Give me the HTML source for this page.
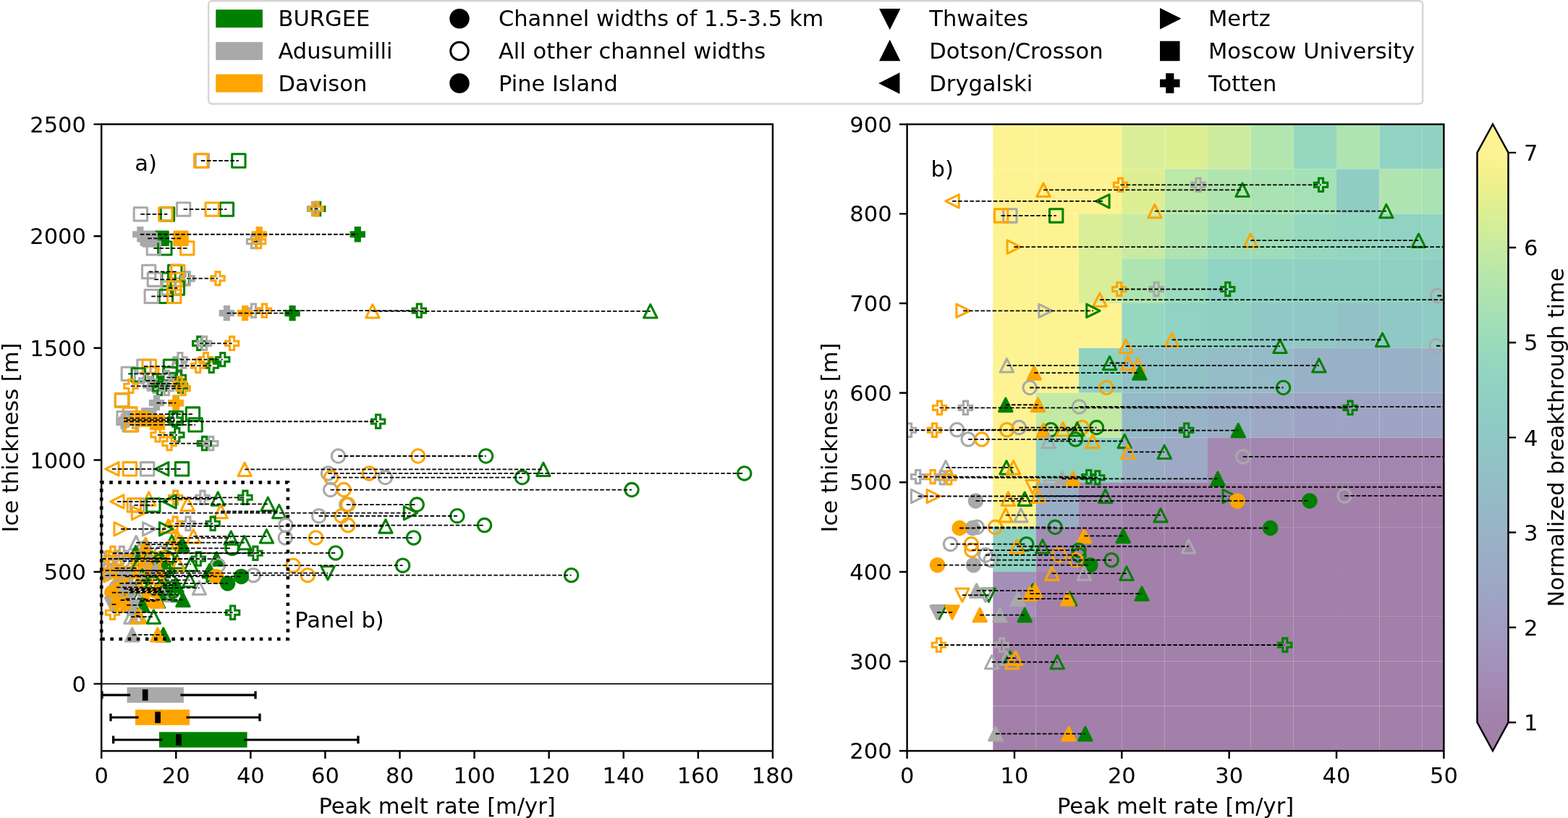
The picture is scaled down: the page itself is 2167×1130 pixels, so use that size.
<!DOCTYPE html>
<html><head><meta charset="utf-8"><title>Peak melt rate vs ice thickness</title>
<style>
html,body{margin:0;padding:0;background:#fff;width:2167px;height:1130px;overflow:hidden}
svg{display:block}
text{font-family:"DejaVu Sans","Liberation Sans",sans-serif;font-size:30.56px;fill:#000}
.dl{stroke:#000;stroke-width:1.8;stroke-dasharray:5.6 2.5;fill:none}
</style></head><body>
<svg width="2167" height="1130" viewBox="0 0 2167 1130">
<defs><clipPath id="ca"><rect x="140.2" y="171.6" width="927.7" height="865.8"/></clipPath>
<clipPath id="cb"><rect x="1253.6" y="171.7" width="741.8" height="865.6"/></clipPath>
<linearGradient id="cg" x1="0" y1="1" x2="0" y2="0">
<stop offset="0" stop-color="#a280aa"/>
<stop offset="0.05" stop-color="#a389b2"/>
<stop offset="0.1" stop-color="#a491ba"/>
<stop offset="0.15" stop-color="#a29abf"/>
<stop offset="0.2" stop-color="#a0a1c3"/>
<stop offset="0.25" stop-color="#9da9c5"/>
<stop offset="0.3" stop-color="#9aafc6"/>
<stop offset="0.35" stop-color="#97b5c7"/>
<stop offset="0.4" stop-color="#94bcc7"/>
<stop offset="0.45" stop-color="#92c2c6"/>
<stop offset="0.5" stop-color="#90c8c6"/>
<stop offset="0.55" stop-color="#8fcdc4"/>
<stop offset="0.6" stop-color="#91d3c2"/>
<stop offset="0.65" stop-color="#97d9bd"/>
<stop offset="0.7" stop-color="#a2dfb8"/>
<stop offset="0.75" stop-color="#afe4b0"/>
<stop offset="0.8" stop-color="#bce8a8"/>
<stop offset="0.85" stop-color="#cdec9e"/>
<stop offset="0.9" stop-color="#deef93"/>
<stop offset="0.95" stop-color="#eff18c"/>
<stop offset="1" stop-color="#fef392"/>
</linearGradient></defs>
<rect width="2167" height="1130" fill="#fff"/>
<rect x="288.2" y="1.2" width="1678" height="142.3" rx="5" ry="5" fill="#fff" stroke="#d6d6d6" stroke-width="2.44"/>
<rect x="299.8" y="14.8" width="61.6" height="21.8" fill="#008000" stroke="#008000" stroke-width="3.06"/>
<text x="384.5" y="36.3" text-anchor="start">BURGEE</text>
<rect x="299.8" y="59.6" width="61.6" height="21.8" fill="#a9a9a9" stroke="#a9a9a9" stroke-width="3.06"/>
<text x="384.5" y="81.1" text-anchor="start">Adusumilli</text>
<rect x="299.8" y="104.1" width="61.6" height="21.8" fill="#ffa500" stroke="#ffa500" stroke-width="3.06"/>
<text x="384.5" y="125.6" text-anchor="start">Davison</text>
<circle cx="635" cy="25.7" r="12.22" fill="#000" stroke="#000" stroke-width="3.06"/>
<text x="688.9" y="36.3" text-anchor="start">Channel widths of 1.5-3.5 km</text>
<circle cx="635" cy="70.5" r="12.22" fill="none" stroke="#000" stroke-width="3.06"/>
<text x="688.9" y="81.1" text-anchor="start">All other channel widths</text>
<circle cx="635" cy="115" r="12.22" fill="#000" stroke="#000" stroke-width="3.06"/>
<text x="688.9" y="125.6" text-anchor="start">Pine Island</text>
<path d="M1229.7 37.92L1217.48 13.48L1241.92 13.48Z" fill="#000" stroke="#000" stroke-width="3.06" stroke-linejoin="miter"/>
<text x="1284.3" y="36.3" text-anchor="start">Thwaites</text>
<path d="M1229.7 58.28L1217.48 82.72L1241.92 82.72Z" fill="#000" stroke="#000" stroke-width="3.06" stroke-linejoin="miter"/>
<text x="1284.3" y="81.1" text-anchor="start">Dotson/Crosson</text>
<path d="M1217.48 115L1241.92 102.78L1241.92 127.22Z" fill="#000" stroke="#000" stroke-width="3.06" stroke-linejoin="miter"/>
<text x="1284.3" y="125.6" text-anchor="start">Drygalski</text>
<path d="M1629.02 25.7L1604.58 13.48L1604.58 37.92Z" fill="#000" stroke="#000" stroke-width="3.06" stroke-linejoin="miter"/>
<text x="1670" y="36.3" text-anchor="start">Mertz</text>
<path d="M1604.58 58.28L1629.02 58.28L1629.02 82.72L1604.58 82.72Z" fill="#000" stroke="#000" stroke-width="3.06" stroke-linejoin="miter"/>
<text x="1670" y="81.1" text-anchor="start">Moscow University</text>
<path d="M1612.73 102.78L1620.87 102.78L1620.87 110.93L1629.02 110.93L1629.02 119.07L1620.87 119.07L1620.87 127.22L1612.73 127.22L1612.73 119.07L1604.58 119.07L1604.58 110.93L1612.73 110.93Z" fill="#000" stroke="#000" stroke-width="3.06" stroke-linejoin="miter"/>
<text x="1670" y="125.6" text-anchor="start">Totten</text>
<g clip-path="url(#ca)">
<path d="M140.2 944.64H1067.9" stroke="#000" stroke-width="1.9" fill="none"/>
<rect x="175.61" y="949.4" width="78.29" height="21.4" fill="#a9a9a9"/>
<path d="M140.97 960.1H180.11M249.39 960.1H353.06" stroke="#000" stroke-width="3.06" fill="none"/>
<path d="M140.97 954.75v10.7M353.06 954.75v10.7" stroke="#000" stroke-width="3.3" fill="none"/>
<rect x="196.81" y="952.3" width="7.7" height="15.6" fill="#000"/>
<rect x="187" y="980.32" width="74.99" height="21.4" fill="#ffa500"/>
<path d="M152.98 991.02H191.5M257.49 991.02H358.98" stroke="#000" stroke-width="3.06" fill="none"/>
<path d="M152.98 985.67v10.7M358.98 985.67v10.7" stroke="#000" stroke-width="3.3" fill="none"/>
<rect x="214.23" y="983.22" width="7.7" height="15.6" fill="#000"/>
<rect x="219.98" y="1011.24" width="121.63" height="21.4" fill="#008000"/>
<path d="M156.59 1021.94H224.48M337.11 1021.94H494.99" stroke="#000" stroke-width="3.06" fill="none"/>
<path d="M156.59 1016.59v10.7M494.99 1016.59v10.7" stroke="#000" stroke-width="3.3" fill="none"/>
<rect x="243.14" y="1014.14" width="7.7" height="15.6" fill="#000"/>
<path d="M320.7 212.83L339.03 212.83L339.03 231.17L320.7 231.17Z" fill="none" stroke="#008000" stroke-width="3.06" stroke-linejoin="round"/>
<path d="M270.19 212.83L288.52 212.83L288.52 231.17L270.19 231.17Z" fill="none" stroke="#a9a9a9" stroke-width="3.06" stroke-linejoin="round"/>
<path d="M268.64 212.83L286.98 212.83L286.98 231.17L268.64 231.17Z" fill="none" stroke="#ffa500" stroke-width="3.06" stroke-linejoin="round"/>
<path d="M304.2 279.93L322.54 279.93L322.54 298.27L304.2 298.27Z" fill="none" stroke="#008000" stroke-width="3.06" stroke-linejoin="round"/>
<path d="M244.42 279.93L262.75 279.93L262.75 298.27L244.42 298.27Z" fill="none" stroke="#a9a9a9" stroke-width="3.06" stroke-linejoin="round"/>
<path d="M284.1 279.93L302.44 279.93L302.44 298.27L284.1 298.27Z" fill="none" stroke="#ffa500" stroke-width="3.06" stroke-linejoin="round"/>
<path d="M436.58 279.32L442.7 279.32L442.7 285.43L448.81 285.43L448.81 291.54L442.7 291.54L442.7 297.65L436.58 297.65L436.58 291.54L430.47 291.54L430.47 285.43L436.58 285.43Z" fill="none" stroke="#008000" stroke-width="3.06" stroke-linejoin="miter"/>
<path d="M431.43 279.32L437.54 279.32L437.54 285.43L443.66 285.43L443.66 291.54L437.54 291.54L437.54 297.65L431.43 297.65L431.43 291.54L425.32 291.54L425.32 285.43L431.43 285.43Z" fill="none" stroke="#a9a9a9" stroke-width="3.06" stroke-linejoin="miter"/>
<path d="M434.01 279.32L440.12 279.32L440.12 285.43L446.23 285.43L446.23 291.54L440.12 291.54L440.12 297.65L434.01 297.65L434.01 291.54L427.9 291.54L427.9 285.43L434.01 285.43Z" fill="none" stroke="#ffa500" stroke-width="3.06" stroke-linejoin="miter"/>
<path d="M222.26 286.74L240.59 286.74L240.59 305.07L222.26 305.07Z" fill="none" stroke="#008000" stroke-width="3.06" stroke-linejoin="round"/>
<path d="M185.15 286.74L203.48 286.74L203.48 305.07L185.15 305.07Z" fill="none" stroke="#a9a9a9" stroke-width="3.06" stroke-linejoin="round"/>
<path d="M219.68 286.74L238.01 286.74L238.01 305.07L219.68 305.07Z" fill="none" stroke="#ffa500" stroke-width="3.06" stroke-linejoin="round"/>
<path d="M491.22 314.57L497.33 314.57L497.33 320.68L503.44 320.68L503.44 326.79L497.33 326.79L497.33 332.9L491.22 332.9L491.22 326.79L485.1 326.79L485.1 320.68L491.22 320.68Z" fill="#008000" stroke="#008000" stroke-width="3.06" stroke-linejoin="miter"/>
<path d="M190.74 314.57L196.86 314.57L196.86 320.68L202.97 320.68L202.97 326.79L196.86 326.79L196.86 332.9L190.74 332.9L190.74 326.79L184.63 326.79L184.63 320.68L190.74 320.68Z" fill="#a9a9a9" stroke="#a9a9a9" stroke-width="3.06" stroke-linejoin="miter"/>
<path d="M355.15 314.57L361.27 314.57L361.27 320.68L367.38 320.68L367.38 326.79L361.27 326.79L361.27 332.9L355.15 332.9L355.15 326.79L349.04 326.79L349.04 320.68L355.15 320.68Z" fill="#ffa500" stroke="#ffa500" stroke-width="3.06" stroke-linejoin="miter"/>
<path d="M214.01 320.13L232.35 320.13L232.35 338.47L214.01 338.47Z" fill="#008000" stroke="#008000" stroke-width="3.06" stroke-linejoin="round"/>
<path d="M194.94 320.13L213.28 320.13L213.28 338.47L194.94 338.47Z" fill="#a9a9a9" stroke="#a9a9a9" stroke-width="3.06" stroke-linejoin="round"/>
<path d="M240.81 320.13L259.15 320.13L259.15 338.47L240.81 338.47Z" fill="#ffa500" stroke="#ffa500" stroke-width="3.06" stroke-linejoin="round"/>
<path d="M198.03 321.99L216.37 321.99L216.37 340.32L198.03 340.32Z" fill="#a9a9a9" stroke="#a9a9a9" stroke-width="3.06" stroke-linejoin="round"/>
<path d="M347.42 324.46L353.53 324.46L353.53 330.57L359.65 330.57L359.65 336.68L353.53 336.68L353.53 342.8L347.42 342.8L347.42 336.68L341.31 336.68L341.31 330.57L347.42 330.57Z" fill="none" stroke="#a9a9a9" stroke-width="3.06" stroke-linejoin="miter"/>
<path d="M354.64 324.46L360.75 324.46L360.75 330.57L366.86 330.57L366.86 336.68L360.75 336.68L360.75 342.8L354.64 342.8L354.64 336.68L348.53 336.68L348.53 330.57L354.64 330.57Z" fill="none" stroke="#ffa500" stroke-width="3.06" stroke-linejoin="miter"/>
<path d="M218.65 333.74L236.98 333.74L236.98 352.07L218.65 352.07Z" fill="none" stroke="#008000" stroke-width="3.06" stroke-linejoin="round"/>
<path d="M203.19 333.74L221.52 333.74L221.52 352.07L203.19 352.07Z" fill="none" stroke="#a9a9a9" stroke-width="3.06" stroke-linejoin="round"/>
<path d="M249.57 333.74L267.91 333.74L267.91 352.07L249.57 352.07Z" fill="none" stroke="#ffa500" stroke-width="3.06" stroke-linejoin="round"/>
<path d="M232.56 366.2L250.9 366.2L250.9 384.54L232.56 384.54Z" fill="none" stroke="#008000" stroke-width="3.06" stroke-linejoin="round"/>
<path d="M196.49 366.2L214.82 366.2L214.82 384.54L196.49 384.54Z" fill="none" stroke="#a9a9a9" stroke-width="3.06" stroke-linejoin="round"/>
<path d="M236.69 366.2L255.02 366.2L255.02 384.54L236.69 384.54Z" fill="none" stroke="#ffa500" stroke-width="3.06" stroke-linejoin="round"/>
<path d="M255.17 375.48L261.28 375.48L261.28 381.59L267.39 381.59L267.39 387.7L261.28 387.7L261.28 393.82L255.17 393.82L255.17 387.7L249.06 387.7L249.06 381.59L255.17 381.59Z" fill="none" stroke="#008000" stroke-width="3.06" stroke-linejoin="miter"/>
<path d="M256.2 375.48L262.31 375.48L262.31 381.59L268.42 381.59L268.42 387.7L262.31 387.7L262.31 393.82L256.2 393.82L256.2 387.7L250.09 387.7L250.09 381.59L256.2 381.59Z" fill="none" stroke="#a9a9a9" stroke-width="3.06" stroke-linejoin="miter"/>
<path d="M297.95 375.48L304.06 375.48L304.06 381.59L310.17 381.59L310.17 387.7L304.06 387.7L304.06 393.82L297.95 393.82L297.95 387.7L291.83 387.7L291.83 381.59L297.95 381.59Z" fill="none" stroke="#ffa500" stroke-width="3.06" stroke-linejoin="miter"/>
<path d="M223.8 377.03L242.14 377.03L242.14 395.36L223.8 395.36Z" fill="none" stroke="#008000" stroke-width="3.06" stroke-linejoin="round"/>
<path d="M204.22 377.03L222.55 377.03L222.55 395.36L204.22 395.36Z" fill="none" stroke="#a9a9a9" stroke-width="3.06" stroke-linejoin="round"/>
<path d="M235.14 377.03L253.48 377.03L253.48 395.36L235.14 395.36Z" fill="none" stroke="#ffa500" stroke-width="3.06" stroke-linejoin="round"/>
<path d="M236.17 388.78L254.51 388.78L254.51 407.11L236.17 407.11Z" fill="none" stroke="#008000" stroke-width="3.06" stroke-linejoin="round"/>
<path d="M223.8 388.78L242.14 388.78L242.14 407.11L223.8 407.11Z" fill="none" stroke="#a9a9a9" stroke-width="3.06" stroke-linejoin="round"/>
<path d="M231.53 388.78L249.87 388.78L249.87 407.11L231.53 407.11Z" fill="none" stroke="#ffa500" stroke-width="3.06" stroke-linejoin="round"/>
<path d="M220.19 400.22L238.53 400.22L238.53 418.55L220.19 418.55Z" fill="none" stroke="#008000" stroke-width="3.06" stroke-linejoin="round"/>
<path d="M200.09 400.22L218.43 400.22L218.43 418.55L200.09 418.55Z" fill="none" stroke="#a9a9a9" stroke-width="3.06" stroke-linejoin="round"/>
<path d="M231.53 400.22L249.87 400.22L249.87 418.55L231.53 418.55Z" fill="none" stroke="#ffa500" stroke-width="3.06" stroke-linejoin="round"/>
<path d="M898.85 420.63L889.68 438.96L908.02 438.96Z" fill="none" stroke="#008000" stroke-width="3.06" stroke-linejoin="round"/>
<path d="M514.89 420.63L505.72 438.96L524.06 438.96Z" fill="none" stroke="#ffa500" stroke-width="3.06" stroke-linejoin="round"/>
<path d="M576.26 420.01L582.37 420.01L582.37 426.12L588.48 426.12L588.48 432.23L582.37 432.23L582.37 438.34L576.26 438.34L576.26 432.23L570.14 432.23L570.14 426.12L576.26 426.12Z" fill="none" stroke="#008000" stroke-width="3.06" stroke-linejoin="miter"/>
<path d="M347.42 420.01L353.53 420.01L353.53 426.12L359.65 426.12L359.65 432.23L353.53 432.23L353.53 438.34L347.42 438.34L347.42 432.23L341.31 432.23L341.31 426.12L347.42 426.12Z" fill="none" stroke="#a9a9a9" stroke-width="3.06" stroke-linejoin="miter"/>
<path d="M362.37 420.01L368.48 420.01L368.48 426.12L374.59 426.12L374.59 432.23L368.48 432.23L368.48 438.34L362.37 438.34L362.37 432.23L356.26 432.23L356.26 426.12L362.37 426.12Z" fill="none" stroke="#ffa500" stroke-width="3.06" stroke-linejoin="miter"/>
<path d="M401.02 423.41L407.14 423.41L407.14 429.52L413.25 429.52L413.25 435.63L407.14 435.63L407.14 441.74L401.02 441.74L401.02 435.63L394.91 435.63L394.91 429.52L401.02 429.52Z" fill="#008000" stroke="#008000" stroke-width="3.06" stroke-linejoin="miter"/>
<path d="M310.31 423.41L316.43 423.41L316.43 429.52L322.54 429.52L322.54 435.63L316.43 435.63L316.43 441.74L310.31 441.74L310.31 435.63L304.2 435.63L304.2 429.52L310.31 429.52Z" fill="#a9a9a9" stroke="#a9a9a9" stroke-width="3.06" stroke-linejoin="miter"/>
<path d="M335.57 423.41L341.68 423.41L341.68 429.52L347.79 429.52L347.79 435.63L341.68 435.63L341.68 441.74L335.57 441.74L335.57 435.63L329.46 435.63L329.46 429.52L335.57 429.52Z" fill="#ffa500" stroke="#ffa500" stroke-width="3.06" stroke-linejoin="miter"/>
<path d="M272.69 465.15L278.8 465.15L278.8 471.26L284.92 471.26L284.92 477.38L278.8 477.38L278.8 483.49L272.69 483.49L272.69 477.38L266.58 477.38L266.58 471.26L272.69 471.26Z" fill="none" stroke="#008000" stroke-width="3.06" stroke-linejoin="miter"/>
<path d="M279.39 465.15L285.5 465.15L285.5 471.26L291.62 471.26L291.62 477.38L285.5 477.38L285.5 483.49L279.39 483.49L279.39 477.38L273.28 477.38L273.28 471.26L279.39 471.26Z" fill="none" stroke="#a9a9a9" stroke-width="3.06" stroke-linejoin="miter"/>
<path d="M317.53 465.15L323.64 465.15L323.64 471.26L329.75 471.26L329.75 477.38L323.64 477.38L323.64 483.49L317.53 483.49L317.53 477.38L311.42 477.38L311.42 471.26L317.53 471.26Z" fill="none" stroke="#ffa500" stroke-width="3.06" stroke-linejoin="miter"/>
<path d="M304.65 487.42L310.76 487.42L310.76 493.53L316.87 493.53L316.87 499.64L310.76 499.64L310.76 505.75L304.65 505.75L304.65 499.64L298.53 499.64L298.53 493.53L304.65 493.53Z" fill="none" stroke="#008000" stroke-width="3.06" stroke-linejoin="miter"/>
<path d="M245.89 487.42L252 487.42L252 493.53L258.12 493.53L258.12 499.64L252 499.64L252 505.75L245.89 505.75L245.89 499.64L239.78 499.64L239.78 493.53L245.89 493.53Z" fill="none" stroke="#a9a9a9" stroke-width="3.06" stroke-linejoin="miter"/>
<path d="M281.45 487.42L287.56 487.42L287.56 493.53L293.68 493.53L293.68 499.64L287.56 499.64L287.56 505.75L281.45 505.75L281.45 499.64L275.34 499.64L275.34 493.53L281.45 493.53Z" fill="none" stroke="#ffa500" stroke-width="3.06" stroke-linejoin="miter"/>
<path d="M289.18 496.07L295.3 496.07L295.3 502.19L301.41 502.19L301.41 508.3L295.3 508.3L295.3 514.41L289.18 514.41L289.18 508.3L283.07 508.3L283.07 502.19L289.18 502.19Z" fill="none" stroke="#008000" stroke-width="3.06" stroke-linejoin="miter"/>
<path d="M244.86 496.07L250.97 496.07L250.97 502.19L257.08 502.19L257.08 508.3L250.97 508.3L250.97 514.41L244.86 514.41L244.86 508.3L238.75 508.3L238.75 502.19L244.86 502.19Z" fill="none" stroke="#a9a9a9" stroke-width="3.06" stroke-linejoin="miter"/>
<path d="M270.63 496.07L276.74 496.07L276.74 502.19L282.85 502.19L282.85 508.3L276.74 508.3L276.74 514.41L270.63 514.41L270.63 508.3L264.52 508.3L264.52 502.19L270.63 502.19Z" fill="none" stroke="#ffa500" stroke-width="3.06" stroke-linejoin="miter"/>
<path d="M226.38 497L244.71 497L244.71 515.34L226.38 515.34Z" fill="none" stroke="#008000" stroke-width="3.06" stroke-linejoin="round"/>
<path d="M189.79 497L208.12 497L208.12 515.34L189.79 515.34Z" fill="none" stroke="#a9a9a9" stroke-width="3.06" stroke-linejoin="round"/>
<path d="M197 497L215.34 497L215.34 515.34L197 515.34Z" fill="none" stroke="#ffa500" stroke-width="3.06" stroke-linejoin="round"/>
<path d="M225.86 507.21L244.2 507.21L244.2 525.54L225.86 525.54Z" fill="none" stroke="#008000" stroke-width="3.06" stroke-linejoin="round"/>
<path d="M168.14 507.21L186.48 507.21L186.48 525.54L168.14 525.54Z" fill="none" stroke="#a9a9a9" stroke-width="3.06" stroke-linejoin="round"/>
<path d="M200.61 507.21L218.95 507.21L218.95 525.54L200.61 525.54Z" fill="none" stroke="#ffa500" stroke-width="3.06" stroke-linejoin="round"/>
<path d="M182.06 508.75L200.39 508.75L200.39 527.09L182.06 527.09Z" fill="none" stroke="#008000" stroke-width="3.06" stroke-linejoin="round"/>
<path d="M244.34 512.15L250.46 512.15L250.46 518.27L256.57 518.27L256.57 524.38L250.46 524.38L250.46 530.49L244.34 530.49L244.34 524.38L238.23 524.38L238.23 518.27L244.34 518.27Z" fill="none" stroke="#008000" stroke-width="3.06" stroke-linejoin="miter"/>
<path d="M227.34 512.15L233.45 512.15L233.45 518.27L239.56 518.27L239.56 524.38L233.45 524.38L233.45 530.49L227.34 530.49L227.34 524.38L221.23 524.38L221.23 518.27L227.34 518.27Z" fill="none" stroke="#a9a9a9" stroke-width="3.06" stroke-linejoin="miter"/>
<path d="M211.36 516.79L217.47 516.79L217.47 522.9L223.58 522.9L223.58 529.02L217.47 529.02L217.47 535.13L211.36 535.13L211.36 529.02L205.25 529.02L205.25 522.9L211.36 522.9Z" fill="none" stroke="#008000" stroke-width="3.06" stroke-linejoin="miter"/>
<path d="M198.48 516.79L204.59 516.79L204.59 522.9L210.7 522.9L210.7 529.02L204.59 529.02L204.59 535.13L198.48 535.13L198.48 529.02L192.36 529.02L192.36 522.9L198.48 522.9Z" fill="none" stroke="#a9a9a9" stroke-width="3.06" stroke-linejoin="miter"/>
<path d="M246.41 524.21L252.52 524.21L252.52 530.32L258.63 530.32L258.63 536.44L252.52 536.44L252.52 542.55L246.41 542.55L246.41 536.44L240.29 536.44L240.29 530.32L246.41 530.32Z" fill="none" stroke="#008000" stroke-width="3.06" stroke-linejoin="miter"/>
<path d="M211.88 524.21L217.99 524.21L217.99 530.32L224.1 530.32L224.1 536.44L217.99 536.44L217.99 542.55L211.88 542.55L211.88 536.44L205.76 536.44L205.76 530.32L211.88 530.32Z" fill="none" stroke="#a9a9a9" stroke-width="3.06" stroke-linejoin="miter"/>
<path d="M177.86 524.21L183.97 524.21L183.97 530.32L190.08 530.32L190.08 536.44L183.97 536.44L183.97 542.55L177.86 542.55L177.86 536.44L171.75 536.44L171.75 530.32L177.86 530.32Z" fill="none" stroke="#ffa500" stroke-width="3.06" stroke-linejoin="miter"/>
<path d="M219.61 520.81L225.72 520.81L225.72 526.92L231.83 526.92L231.83 533.04L225.72 533.04L225.72 539.15L219.61 539.15L219.61 533.04L213.49 533.04L213.49 526.92L219.61 526.92Z" fill="none" stroke="#008000" stroke-width="3.06" stroke-linejoin="miter"/>
<path d="M204.14 520.81L210.26 520.81L210.26 526.92L216.37 526.92L216.37 533.04L210.26 533.04L210.26 539.15L204.14 539.15L204.14 533.04L198.03 533.04L198.03 526.92L204.14 526.92Z" fill="none" stroke="#a9a9a9" stroke-width="3.06" stroke-linejoin="miter"/>
<path d="M245.38 520.81L251.49 520.81L251.49 526.92L257.6 526.92L257.6 533.04L251.49 533.04L251.49 539.15L245.38 539.15L245.38 533.04L239.26 533.04L239.26 526.92L245.38 526.92Z" fill="none" stroke="#ffa500" stroke-width="3.06" stroke-linejoin="miter"/>
<path d="M217.54 527.46L223.66 527.46L223.66 533.57L229.77 533.57L229.77 539.68L223.66 539.68L223.66 545.8L217.54 545.8L217.54 539.68L211.43 539.68L211.43 533.57L217.54 533.57Z" fill="none" stroke="#008000" stroke-width="3.06" stroke-linejoin="miter"/>
<path d="M227.34 527.46L233.45 527.46L233.45 533.57L239.56 533.57L239.56 539.68L233.45 539.68L233.45 545.8L227.34 545.8L227.34 539.68L221.23 539.68L221.23 533.57L227.34 533.57Z" fill="none" stroke="#a9a9a9" stroke-width="3.06" stroke-linejoin="miter"/>
<path d="M250.01 527.46L256.13 527.46L256.13 533.57L262.24 533.57L262.24 539.68L256.13 539.68L256.13 545.8L250.01 545.8L250.01 539.68L243.9 539.68L243.9 533.57L250.01 533.57Z" fill="none" stroke="#ffa500" stroke-width="3.06" stroke-linejoin="miter"/>
<path d="M159.38 543.69L177.71 543.69L177.71 562.03L159.38 562.03Z" fill="none" stroke="#008000" stroke-width="3.06" stroke-linejoin="round"/>
<path d="M159.38 543.69L177.71 543.69L177.71 562.03L159.38 562.03Z" fill="none" stroke="#a9a9a9" stroke-width="3.06" stroke-linejoin="round"/>
<path d="M159.38 543.69L177.71 543.69L177.71 562.03L159.38 562.03Z" fill="none" stroke="#ffa500" stroke-width="3.06" stroke-linejoin="round"/>
<path d="M240.22 547.4L246.33 547.4L246.33 553.52L252.45 553.52L252.45 559.63L246.33 559.63L246.33 565.74L240.22 565.74L240.22 559.63L234.11 559.63L234.11 553.52L240.22 553.52Z" fill="#008000" stroke="#008000" stroke-width="3.06" stroke-linejoin="miter"/>
<path d="M213.42 547.4L219.53 547.4L219.53 553.52L225.65 553.52L225.65 559.63L219.53 559.63L219.53 565.74L213.42 565.74L213.42 559.63L207.31 559.63L207.31 553.52L213.42 553.52Z" fill="#a9a9a9" stroke="#a9a9a9" stroke-width="3.06" stroke-linejoin="miter"/>
<path d="M240.22 547.4L246.33 547.4L246.33 553.52L252.45 553.52L252.45 559.63L246.33 559.63L246.33 565.74L240.22 565.74L240.22 559.63L234.11 559.63L234.11 553.52L240.22 553.52Z" fill="#ffa500" stroke="#ffa500" stroke-width="3.06" stroke-linejoin="miter"/>
<path d="M257.3 562.86L275.64 562.86L275.64 581.2L257.3 581.2Z" fill="none" stroke="#008000" stroke-width="3.06" stroke-linejoin="round"/>
<path d="M170.72 562.86L189.05 562.86L189.05 581.2L170.72 581.2Z" fill="none" stroke="#a9a9a9" stroke-width="3.06" stroke-linejoin="round"/>
<path d="M170.2 562.86L188.54 562.86L188.54 581.2L170.2 581.2Z" fill="none" stroke="#ffa500" stroke-width="3.06" stroke-linejoin="round"/>
<path d="M196.49 564.41L214.82 564.41L214.82 582.75L196.49 582.75Z" fill="#a9a9a9" stroke="#a9a9a9" stroke-width="3.06" stroke-linejoin="round"/>
<path d="M187.72 569.98L206.06 569.98L206.06 588.31L187.72 588.31Z" fill="#ffa500" stroke="#ffa500" stroke-width="3.06" stroke-linejoin="round"/>
<path d="M208.34 574.31L226.68 574.31L226.68 592.64L208.34 592.64Z" fill="#ffa500" stroke="#ffa500" stroke-width="3.06" stroke-linejoin="round"/>
<path d="M234.11 568.43L252.45 568.43L252.45 586.77L234.11 586.77Z" fill="none" stroke="#008000" stroke-width="3.06" stroke-linejoin="round"/>
<path d="M161.96 568.43L180.29 568.43L180.29 586.77L161.96 586.77Z" fill="none" stroke="#a9a9a9" stroke-width="3.06" stroke-linejoin="round"/>
<path d="M182.57 568.43L200.91 568.43L200.91 586.77L182.57 586.77Z" fill="none" stroke="#ffa500" stroke-width="3.06" stroke-linejoin="round"/>
<path d="M238.68 570.9L244.79 570.9L244.79 577.02L250.9 577.02L250.9 583.13L244.79 583.13L244.79 589.24L238.68 589.24L238.68 583.13L232.56 583.13L232.56 577.02L238.68 577.02Z" fill="none" stroke="#008000" stroke-width="3.06" stroke-linejoin="miter"/>
<path d="M171.42 570.9L177.53 570.9L177.53 577.02L183.64 577.02L183.64 583.13L177.53 583.13L177.53 589.24L171.42 589.24L171.42 583.13L165.31 583.13L165.31 577.02L171.42 577.02Z" fill="none" stroke="#a9a9a9" stroke-width="3.06" stroke-linejoin="miter"/>
<path d="M519.56 573.07L525.67 573.07L525.67 579.18L531.79 579.18L531.79 585.29L525.67 585.29L525.67 591.4L519.56 591.4L519.56 585.29L513.45 585.29L513.45 579.18L519.56 579.18Z" fill="none" stroke="#008000" stroke-width="3.06" stroke-linejoin="miter"/>
<path d="M168.07 573.07L174.18 573.07L174.18 579.18L180.29 579.18L180.29 585.29L174.18 585.29L174.18 591.4L168.07 591.4L168.07 585.29L161.96 585.29L161.96 579.18L168.07 579.18Z" fill="none" stroke="#a9a9a9" stroke-width="3.06" stroke-linejoin="miter"/>
<path d="M183.53 573.07L189.64 573.07L189.64 579.18L195.75 579.18L195.75 585.29L189.64 585.29L189.64 591.4L183.53 591.4L183.53 585.29L177.42 585.29L177.42 579.18L183.53 579.18Z" fill="none" stroke="#ffa500" stroke-width="3.06" stroke-linejoin="miter"/>
<path d="M260.91 577.71L279.25 577.71L279.25 596.04L260.91 596.04Z" fill="none" stroke="#008000" stroke-width="3.06" stroke-linejoin="round"/>
<path d="M170.2 577.71L188.54 577.71L188.54 596.04L170.2 596.04Z" fill="none" stroke="#a9a9a9" stroke-width="3.06" stroke-linejoin="round"/>
<path d="M172.52 577.71L190.86 577.71L190.86 596.04L172.52 596.04Z" fill="none" stroke="#ffa500" stroke-width="3.06" stroke-linejoin="round"/>
<path d="M241.77 591.62L247.88 591.62L247.88 597.73L253.99 597.73L253.99 603.85L247.88 603.85L247.88 609.96L241.77 609.96L241.77 603.85L235.66 603.85L235.66 597.73L241.77 597.73Z" fill="none" stroke="#008000" stroke-width="3.06" stroke-linejoin="miter"/>
<path d="M214.97 591.62L221.08 591.62L221.08 597.73L227.19 597.73L227.19 603.85L221.08 603.85L221.08 609.96L214.97 609.96L214.97 603.85L208.86 603.85L208.86 597.73L214.97 597.73Z" fill="none" stroke="#ffa500" stroke-width="3.06" stroke-linejoin="miter"/>
<path d="M279.39 603.37L285.5 603.37L285.5 609.48L291.62 609.48L291.62 615.6L285.5 615.6L285.5 621.71L279.39 621.71L279.39 615.6L273.28 615.6L273.28 609.48L279.39 609.48Z" fill="none" stroke="#008000" stroke-width="3.06" stroke-linejoin="miter"/>
<path d="M288.67 603.37L294.78 603.37L294.78 609.48L300.89 609.48L300.89 615.6L294.78 615.6L294.78 621.71L288.67 621.71L288.67 615.6L282.56 615.6L282.56 609.48L288.67 609.48Z" fill="none" stroke="#a9a9a9" stroke-width="3.06" stroke-linejoin="miter"/>
<path d="M230.94 603.37L237.06 603.37L237.06 609.48L243.17 609.48L243.17 615.6L237.06 615.6L237.06 621.71L230.94 621.71L230.94 615.6L224.83 615.6L224.83 609.48L230.94 609.48Z" fill="none" stroke="#ffa500" stroke-width="3.06" stroke-linejoin="miter"/>
<circle cx="671.57" cy="630.01" r="9.17" fill="none" stroke="#008000" stroke-width="3.06"/>
<circle cx="467.47" cy="630.01" r="9.17" fill="none" stroke="#a9a9a9" stroke-width="3.06"/>
<circle cx="577.77" cy="630.01" r="9.17" fill="none" stroke="#ffa500" stroke-width="3.06"/>
<path d="M214.52 647.79L232.86 638.62L232.86 656.96Z" fill="none" stroke="#008000" stroke-width="3.06" stroke-linejoin="round"/>
<path d="M145.72 647.79L164.06 638.62L164.06 656.96Z" fill="none" stroke="#ffa500" stroke-width="3.06" stroke-linejoin="round"/>
<path d="M242.36 638.62L260.69 638.62L260.69 656.96L242.36 656.96Z" fill="none" stroke="#008000" stroke-width="3.06" stroke-linejoin="round"/>
<path d="M194.42 638.62L212.76 638.62L212.76 656.96L194.42 656.96Z" fill="none" stroke="#a9a9a9" stroke-width="3.06" stroke-linejoin="round"/>
<path d="M170.2 638.62L188.54 638.62L188.54 656.96L170.2 656.96Z" fill="none" stroke="#ffa500" stroke-width="3.06" stroke-linejoin="round"/>
<path d="M750.94 639.24L741.77 657.58L760.1 657.58Z" fill="none" stroke="#008000" stroke-width="3.06" stroke-linejoin="round"/>
<path d="M338.11 639.24L328.94 657.58L347.28 657.58Z" fill="none" stroke="#ffa500" stroke-width="3.06" stroke-linejoin="round"/>
<circle cx="1028.73" cy="653.97" r="9.17" fill="none" stroke="#008000" stroke-width="3.06"/>
<circle cx="453.56" cy="653.97" r="9.17" fill="none" stroke="#a9a9a9" stroke-width="3.06"/>
<circle cx="510.25" cy="653.97" r="9.17" fill="none" stroke="#ffa500" stroke-width="3.06"/>
<circle cx="721.56" cy="659.54" r="9.17" fill="none" stroke="#008000" stroke-width="3.06"/>
<circle cx="532.41" cy="659.54" r="9.17" fill="none" stroke="#a9a9a9" stroke-width="3.06"/>
<circle cx="457.68" cy="659.54" r="9.17" fill="none" stroke="#ffa500" stroke-width="3.06"/>
<circle cx="873.08" cy="676.55" r="9.17" fill="none" stroke="#008000" stroke-width="3.06"/>
<circle cx="456.65" cy="676.55" r="9.17" fill="none" stroke="#a9a9a9" stroke-width="3.06"/>
<circle cx="475.2" cy="676.55" r="9.17" fill="none" stroke="#ffa500" stroke-width="3.06"/>
<path d="M335.83 678.11L341.94 678.11L341.94 684.22L348.05 684.22L348.05 690.33L341.94 690.33L341.94 696.44L335.83 696.44L335.83 690.33L329.71 690.33L329.71 684.22L335.83 684.22Z" fill="none" stroke="#008000" stroke-width="3.06" stroke-linejoin="miter"/>
<path d="M276.92 678.11L283.03 678.11L283.03 684.22L289.14 684.22L289.14 690.33L283.03 690.33L283.03 696.44L276.92 696.44L276.92 690.33L270.81 690.33L270.81 684.22L276.92 684.22Z" fill="none" stroke="#a9a9a9" stroke-width="3.06" stroke-linejoin="miter"/>
<path d="M239.6 678.11L245.72 678.11L245.72 684.22L251.83 684.22L251.83 690.33L245.72 690.33L245.72 696.44L239.6 696.44L239.6 690.33L233.49 690.33L233.49 684.22L239.6 684.22Z" fill="none" stroke="#ffa500" stroke-width="3.06" stroke-linejoin="miter"/>
<path d="M301.21 679.84L292.04 698.18L310.38 698.18Z" fill="none" stroke="#008000" stroke-width="3.06" stroke-linejoin="round"/>
<path d="M205.65 679.84L196.49 698.18L214.82 698.18Z" fill="none" stroke="#ffa500" stroke-width="3.06" stroke-linejoin="round"/>
<path d="M224.94 692.9L243.27 683.74L243.27 702.07Z" fill="none" stroke="#008000" stroke-width="3.06" stroke-linejoin="round"/>
<path d="M152.73 692.9L171.07 683.74L171.07 702.07Z" fill="none" stroke="#ffa500" stroke-width="3.06" stroke-linejoin="round"/>
<path d="M202.62 688.75L220.96 688.75L220.96 707.08L202.62 707.08Z" fill="none" stroke="#008000" stroke-width="3.06" stroke-linejoin="round"/>
<path d="M180.46 688.75L198.79 688.75L198.79 707.08L180.46 707.08Z" fill="none" stroke="#a9a9a9" stroke-width="3.06" stroke-linejoin="round"/>
<path d="M176.18 688.75L194.52 688.75L194.52 707.08L176.18 707.08Z" fill="none" stroke="#ffa500" stroke-width="3.06" stroke-linejoin="round"/>
<path d="M370.27 687.17L361.1 705.5L379.44 705.5Z" fill="none" stroke="#008000" stroke-width="3.06" stroke-linejoin="round"/>
<path d="M259.1 687.17L249.93 705.5L268.27 705.5Z" fill="none" stroke="#ffa500" stroke-width="3.06" stroke-linejoin="round"/>
<circle cx="576.22" cy="697.05" r="9.17" fill="none" stroke="#008000" stroke-width="3.06"/>
<circle cx="478.81" cy="697.05" r="9.17" fill="none" stroke="#a9a9a9" stroke-width="3.06"/>
<circle cx="480.87" cy="697.05" r="9.17" fill="none" stroke="#ffa500" stroke-width="3.06"/>
<path d="M385.78 697.31L376.61 715.65L394.95 715.65Z" fill="none" stroke="#008000" stroke-width="3.06" stroke-linejoin="round"/>
<path d="M305.12 697.31L295.96 715.65L314.29 715.65Z" fill="none" stroke="#ffa500" stroke-width="3.06" stroke-linejoin="round"/>
<path d="M576.63 708.71L558.29 699.54L558.29 717.87Z" fill="none" stroke="#008000" stroke-width="3.06" stroke-linejoin="round"/>
<path d="M200.65 708.71L182.31 699.54L182.31 717.87Z" fill="none" stroke="#ffa500" stroke-width="3.06" stroke-linejoin="round"/>
<circle cx="631.88" cy="712.73" r="9.17" fill="none" stroke="#008000" stroke-width="3.06"/>
<circle cx="440.67" cy="712.73" r="9.17" fill="none" stroke="#a9a9a9" stroke-width="3.06"/>
<circle cx="472.11" cy="712.73" r="9.17" fill="none" stroke="#ffa500" stroke-width="3.06"/>
<path d="M291.09 714.13L297.2 714.13L297.2 720.24L303.31 720.24L303.31 726.36L297.2 726.36L297.2 732.47L291.09 732.47L291.09 726.36L284.98 726.36L284.98 720.24L291.09 720.24Z" fill="none" stroke="#008000" stroke-width="3.06" stroke-linejoin="miter"/>
<path d="M256.82 714.13L262.93 714.13L262.93 720.24L269.04 720.24L269.04 726.36L262.93 726.36L262.93 732.47L256.82 732.47L256.82 726.36L250.71 726.36L250.71 720.24L256.82 720.24Z" fill="none" stroke="#a9a9a9" stroke-width="3.06" stroke-linejoin="miter"/>
<path d="M238.98 714.13L245.1 714.13L245.1 720.24L251.21 720.24L251.21 726.36L245.1 726.36L245.1 732.47L238.98 732.47L238.98 726.36L232.87 726.36L232.87 720.24L238.98 720.24Z" fill="none" stroke="#ffa500" stroke-width="3.06" stroke-linejoin="miter"/>
<circle cx="669.5" cy="725.56" r="9.17" fill="none" stroke="#008000" stroke-width="3.06"/>
<circle cx="394.8" cy="725.56" r="9.17" fill="none" stroke="#a9a9a9" stroke-width="3.06"/>
<circle cx="480.87" cy="725.56" r="9.17" fill="none" stroke="#ffa500" stroke-width="3.06"/>
<path d="M532.93 717.78L523.76 736.12L542.09 736.12Z" fill="none" stroke="#008000" stroke-width="3.06" stroke-linejoin="round"/>
<path d="M232.71 717.78L223.54 736.12L241.88 736.12Z" fill="none" stroke="#ffa500" stroke-width="3.06" stroke-linejoin="round"/>
<path d="M238.74 730.75L220.4 721.58L220.4 739.92Z" fill="none" stroke="#008000" stroke-width="3.06" stroke-linejoin="round"/>
<path d="M215.85 730.75L197.52 721.58L197.52 739.92Z" fill="none" stroke="#a9a9a9" stroke-width="3.06" stroke-linejoin="round"/>
<path d="M176.27 730.75L157.94 721.58L157.94 739.92Z" fill="none" stroke="#ffa500" stroke-width="3.06" stroke-linejoin="round"/>
<path d="M368.41 731.63L359.25 749.97L377.58 749.97Z" fill="none" stroke="#008000" stroke-width="3.06" stroke-linejoin="round"/>
<path d="M267.29 731.63L258.13 749.97L276.46 749.97Z" fill="none" stroke="#ffa500" stroke-width="3.06" stroke-linejoin="round"/>
<path d="M319.25 733.86L310.08 752.2L328.41 752.2Z" fill="none" stroke="#008000" stroke-width="3.06" stroke-linejoin="round"/>
<path d="M245.24 733.86L236.07 752.2L254.4 752.2Z" fill="none" stroke="#ffa500" stroke-width="3.06" stroke-linejoin="round"/>
<circle cx="571.58" cy="742.87" r="9.17" fill="none" stroke="#008000" stroke-width="3.06"/>
<circle cx="394.29" cy="742.87" r="9.17" fill="none" stroke="#a9a9a9" stroke-width="3.06"/>
<circle cx="436.55" cy="742.87" r="9.17" fill="none" stroke="#ffa500" stroke-width="3.06"/>
<path d="M237.45 739.64L228.29 757.98L246.62 757.98Z" fill="none" stroke="#008000" stroke-width="3.06" stroke-linejoin="round"/>
<path d="M246.22 739.64L237.05 757.98L255.38 757.98Z" fill="none" stroke="#ffa500" stroke-width="3.06" stroke-linejoin="round"/>
<path d="M337.95 740.48L328.79 758.81L347.12 758.81Z" fill="none" stroke="#008000" stroke-width="3.06" stroke-linejoin="round"/>
<path d="M188.08 740.48L178.91 758.81L197.25 758.81Z" fill="none" stroke="#a9a9a9" stroke-width="3.06" stroke-linejoin="round"/>
<path d="M251.01 740.48L241.84 758.81L260.18 758.81Z" fill="none" stroke="#ffa500" stroke-width="3.06" stroke-linejoin="round"/>
<path d="M251.83 743.04L242.67 761.38L261 761.38Z" fill="#008000" stroke="#008000" stroke-width="3.06" stroke-linejoin="round"/>
<path d="M201.22 743.04L192.05 761.38L210.39 761.38Z" fill="#ffa500" stroke="#ffa500" stroke-width="3.06" stroke-linejoin="round"/>
<circle cx="320.84" cy="757.31" r="9.17" fill="none" stroke="#008000" stroke-width="3.06"/>
<circle cx="199.11" cy="757.31" r="9.17" fill="none" stroke="#a9a9a9" stroke-width="3.06"/>
<circle cx="235.96" cy="757.31" r="9.17" fill="none" stroke="#ffa500" stroke-width="3.06"/>
<path d="M187.51 754.08L178.34 772.42L196.68 772.42Z" fill="#008000" stroke="#008000" stroke-width="3.06" stroke-linejoin="round"/>
<path d="M203.08 754.08L193.91 772.42L212.25 772.42Z" fill="#ffa500" stroke="#ffa500" stroke-width="3.06" stroke-linejoin="round"/>
<path d="M349.9 755.1L356.01 755.1L356.01 761.22L362.12 761.22L362.12 767.33L356.01 767.33L356.01 773.44L349.9 773.44L349.9 767.33L343.78 767.33L343.78 761.22L349.9 761.22Z" fill="none" stroke="#008000" stroke-width="3.06" stroke-linejoin="miter"/>
<path d="M165.23 755.1L171.34 755.1L171.34 761.22L177.46 761.22L177.46 767.33L171.34 767.33L171.34 773.44L165.23 773.44L165.23 767.33L159.12 767.33L159.12 761.22L165.23 761.22Z" fill="none" stroke="#a9a9a9" stroke-width="3.06" stroke-linejoin="miter"/>
<path d="M152.76 755.1L158.87 755.1L158.87 761.22L164.98 761.22L164.98 767.33L158.87 767.33L158.87 773.44L152.76 773.44L152.76 767.33L146.65 767.33L146.65 761.22L152.76 761.22Z" fill="none" stroke="#ffa500" stroke-width="3.06" stroke-linejoin="miter"/>
<circle cx="463.86" cy="763.9" r="9.17" fill="none" stroke="#008000" stroke-width="3.06"/>
<circle cx="222.82" cy="763.9" r="9.17" fill="none" stroke="#a9a9a9" stroke-width="3.06"/>
<circle cx="231.17" cy="771.07" r="9.17" fill="none" stroke="#008000" stroke-width="3.06"/>
<circle cx="193.96" cy="771.07" r="9.17" fill="none" stroke="#a9a9a9" stroke-width="3.06"/>
<circle cx="224.21" cy="771.07" r="9.17" fill="none" stroke="#ffa500" stroke-width="3.06"/>
<circle cx="209.21" cy="771.85" r="9.17" fill="none" stroke="#008000" stroke-width="3.06"/>
<circle cx="164.17" cy="771.85" r="9.17" fill="none" stroke="#a9a9a9" stroke-width="3.06"/>
<circle cx="188.13" cy="771.85" r="9.17" fill="none" stroke="#ffa500" stroke-width="3.06"/>
<path d="M271.3 762.83L277.41 762.83L277.41 768.95L283.52 768.95L283.52 775.06L277.41 775.06L277.41 781.17L271.3 781.17L271.3 775.06L265.19 775.06L265.19 768.95L271.3 768.95Z" fill="none" stroke="#008000" stroke-width="3.06" stroke-linejoin="miter"/>
<path d="M138.17 762.83L144.29 762.83L144.29 768.95L150.4 768.95L150.4 775.06L144.29 775.06L144.29 781.17L138.17 781.17L138.17 775.06L132.06 775.06L132.06 768.95L138.17 768.95Z" fill="none" stroke="#a9a9a9" stroke-width="3.06" stroke-linejoin="miter"/>
<path d="M150.29 762.83L156.4 762.83L156.4 768.95L162.51 768.95L162.51 775.06L156.4 775.06L156.4 781.17L150.29 781.17L150.29 775.06L144.17 775.06L144.17 768.95L150.29 768.95Z" fill="none" stroke="#ffa500" stroke-width="3.06" stroke-linejoin="miter"/>
<path d="M299.2 762.93L290.03 781.26L308.37 781.26Z" fill="#008000" stroke="#008000" stroke-width="3.06" stroke-linejoin="round"/>
<path d="M205.65 762.93L196.49 781.26L214.82 781.26Z" fill="#ffa500" stroke="#ffa500" stroke-width="3.06" stroke-linejoin="round"/>
<path d="M221.89 762.46L212.72 780.8L231.06 780.8Z" fill="none" stroke="#008000" stroke-width="3.06" stroke-linejoin="round"/>
<path d="M215.03 762.46L205.87 780.8L224.2 780.8Z" fill="none" stroke="#ffa500" stroke-width="3.06" stroke-linejoin="round"/>
<circle cx="221.06" cy="775.16" r="9.17" fill="none" stroke="#008000" stroke-width="3.06"/>
<circle cx="169.58" cy="775.16" r="9.17" fill="none" stroke="#a9a9a9" stroke-width="3.06"/>
<circle cx="176.07" cy="775.16" r="9.17" fill="none" stroke="#ffa500" stroke-width="3.06"/>
<path d="M244.62 766.64L235.45 784.97L253.79 784.97Z" fill="none" stroke="#008000" stroke-width="3.06" stroke-linejoin="round"/>
<path d="M208.13 766.64L198.96 784.97L217.3 784.97Z" fill="none" stroke="#a9a9a9" stroke-width="3.06" stroke-linejoin="round"/>
<path d="M229.36 766.64L220.19 784.97L238.53 784.97Z" fill="none" stroke="#ffa500" stroke-width="3.06" stroke-linejoin="round"/>
<path d="M263.74 770.35L254.57 788.68L272.91 788.68Z" fill="none" stroke="#008000" stroke-width="3.06" stroke-linejoin="round"/>
<path d="M246.22 770.35L237.05 788.68L255.38 788.68Z" fill="none" stroke="#ffa500" stroke-width="3.06" stroke-linejoin="round"/>
<circle cx="556.63" cy="781.19" r="9.17" fill="none" stroke="#008000" stroke-width="3.06"/>
<circle cx="301.47" cy="781.19" r="9.17" fill="none" stroke="#a9a9a9" stroke-width="3.06"/>
<circle cx="405.11" cy="781.19" r="9.17" fill="none" stroke="#ffa500" stroke-width="3.06"/>
<path d="M187.93 775.73L178.76 794.06L197.09 794.06Z" fill="none" stroke="#008000" stroke-width="3.06" stroke-linejoin="round"/>
<path d="M158.75 775.73L149.59 794.06L167.92 794.06Z" fill="none" stroke="#a9a9a9" stroke-width="3.06" stroke-linejoin="round"/>
<path d="M191.28 775.73L182.11 794.06L200.44 794.06Z" fill="none" stroke="#ffa500" stroke-width="3.06" stroke-linejoin="round"/>
<path d="M224.4 778.94L230.51 778.94L230.51 785.06L236.62 785.06L236.62 791.17L230.51 791.17L230.51 797.28L224.4 797.28L224.4 791.17L218.29 791.17L218.29 785.06L224.4 785.06Z" fill="none" stroke="#008000" stroke-width="3.06" stroke-linejoin="miter"/>
<path d="M142.35 778.94L148.46 778.94L148.46 785.06L154.57 785.06L154.57 791.17L148.46 791.17L148.46 797.28L142.35 797.28L142.35 791.17L136.24 791.17L136.24 785.06L142.35 785.06Z" fill="none" stroke="#a9a9a9" stroke-width="3.06" stroke-linejoin="miter"/>
<path d="M149.46 778.94L155.57 778.94L155.57 785.06L161.69 785.06L161.69 791.17L155.57 791.17L155.57 797.28L149.46 797.28L149.46 791.17L143.35 791.17L143.35 785.06L149.46 785.06Z" fill="none" stroke="#ffa500" stroke-width="3.06" stroke-linejoin="miter"/>
<path d="M228.57 779.25L234.69 779.25L234.69 785.36L240.8 785.36L240.8 791.48L234.69 791.48L234.69 797.59L228.57 797.59L228.57 791.48L222.46 791.48L222.46 785.36L228.57 785.36Z" fill="none" stroke="#008000" stroke-width="3.06" stroke-linejoin="miter"/>
<path d="M154.05 779.25L160.16 779.25L160.16 785.36L166.27 785.36L166.27 791.48L160.16 791.48L160.16 797.59L154.05 797.59L154.05 791.48L147.94 791.48L147.94 785.36L154.05 785.36Z" fill="none" stroke="#a9a9a9" stroke-width="3.06" stroke-linejoin="miter"/>
<path d="M157.35 779.25L163.46 779.25L163.46 785.36L169.57 785.36L169.57 791.48L163.46 791.48L163.46 797.59L157.35 797.59L157.35 791.48L151.24 791.48L151.24 785.36L157.35 785.36Z" fill="none" stroke="#ffa500" stroke-width="3.06" stroke-linejoin="miter"/>
<path d="M289.35 779.62L280.19 797.96L298.52 797.96Z" fill="#008000" stroke="#008000" stroke-width="3.06" stroke-linejoin="round"/>
<path d="M214.62 779.62L205.45 797.96L223.79 797.96Z" fill="#a9a9a9" stroke="#a9a9a9" stroke-width="3.06" stroke-linejoin="round"/>
<path d="M219.83 779.62L210.66 797.96L229 797.96Z" fill="#ffa500" stroke="#ffa500" stroke-width="3.06" stroke-linejoin="round"/>
<path d="M453.04 800.8L443.87 782.47L462.21 782.47Z" fill="none" stroke="#008000" stroke-width="3.06" stroke-linejoin="round"/>
<path d="M209.21 800.8L200.04 782.47L218.38 782.47Z" fill="none" stroke="#a9a9a9" stroke-width="3.06" stroke-linejoin="round"/>
<path d="M200.45 800.8L191.28 782.47L209.62 782.47Z" fill="none" stroke="#ffa500" stroke-width="3.06" stroke-linejoin="round"/>
<path d="M304.19 794.82L285.85 785.65L285.85 803.99Z" fill="none" stroke="#008000" stroke-width="3.06" stroke-linejoin="round"/>
<path d="M154.57 794.82L136.24 785.65L136.24 803.99Z" fill="none" stroke="#a9a9a9" stroke-width="3.06" stroke-linejoin="round"/>
<path d="M162.1 794.82L143.76 785.65L143.76 803.99Z" fill="none" stroke="#ffa500" stroke-width="3.06" stroke-linejoin="round"/>
<circle cx="789.59" cy="794.67" r="9.17" fill="none" stroke="#008000" stroke-width="3.06"/>
<circle cx="350.22" cy="794.67" r="9.17" fill="none" stroke="#a9a9a9" stroke-width="3.06"/>
<circle cx="425.21" cy="794.67" r="9.17" fill="none" stroke="#ffa500" stroke-width="3.06"/>
<circle cx="333.47" cy="796.43" r="9.17" fill="#008000" stroke="#008000" stroke-width="3.06"/>
<circle cx="173.13" cy="796.43" r="9.17" fill="#a9a9a9" stroke="#a9a9a9" stroke-width="3.06"/>
<circle cx="298.73" cy="796.43" r="9.17" fill="#ffa500" stroke="#ffa500" stroke-width="3.06"/>
<path d="M196.69 786.58L187.52 804.92L205.85 804.92Z" fill="none" stroke="#008000" stroke-width="3.06" stroke-linejoin="round"/>
<path d="M188.75 786.58L179.58 804.92L197.92 804.92Z" fill="none" stroke="#ffa500" stroke-width="3.06" stroke-linejoin="round"/>
<path d="M235.39 785.59L226.22 803.93L244.56 803.93Z" fill="none" stroke="#008000" stroke-width="3.06" stroke-linejoin="round"/>
<path d="M202.92 785.59L193.75 803.93L212.09 803.93Z" fill="none" stroke="#ffa500" stroke-width="3.06" stroke-linejoin="round"/>
<path d="M261.93 792.21L252.77 810.54L271.1 810.54Z" fill="none" stroke="#008000" stroke-width="3.06" stroke-linejoin="round"/>
<path d="M194.83 792.21L185.66 810.54L204 810.54Z" fill="none" stroke="#a9a9a9" stroke-width="3.06" stroke-linejoin="round"/>
<path d="M187.51 792.21L178.34 810.54L196.68 810.54Z" fill="none" stroke="#ffa500" stroke-width="3.06" stroke-linejoin="round"/>
<circle cx="314.61" cy="805.83" r="9.17" fill="#008000" stroke="#008000" stroke-width="3.06"/>
<circle cx="171.64" cy="805.83" r="9.17" fill="#a9a9a9" stroke="#a9a9a9" stroke-width="3.06"/>
<circle cx="165.4" cy="805.83" r="9.17" fill="#ffa500" stroke="#ffa500" stroke-width="3.06"/>
<circle cx="211.27" cy="805.52" r="9.17" fill="none" stroke="#008000" stroke-width="3.06"/>
<circle cx="173.75" cy="805.52" r="9.17" fill="none" stroke="#a9a9a9" stroke-width="3.06"/>
<circle cx="182.51" cy="805.52" r="9.17" fill="none" stroke="#ffa500" stroke-width="3.06"/>
<path d="M243.95 799.35L234.78 817.69L253.12 817.69Z" fill="#008000" stroke="#008000" stroke-width="3.06" stroke-linejoin="round"/>
<path d="M225.24 799.35L216.07 817.69L234.41 817.69Z" fill="#ffa500" stroke="#ffa500" stroke-width="3.06" stroke-linejoin="round"/>
<circle cx="197.51" cy="811.36" r="9.17" fill="none" stroke="#008000" stroke-width="3.06"/>
<circle cx="161.02" cy="811.36" r="9.17" fill="none" stroke="#a9a9a9" stroke-width="3.06"/>
<circle cx="171.02" cy="811.36" r="9.17" fill="none" stroke="#ffa500" stroke-width="3.06"/>
<path d="M205.24 802.97L196.07 821.31L214.41 821.31Z" fill="none" stroke="#008000" stroke-width="3.06" stroke-linejoin="round"/>
<path d="M275.39 802.97L266.22 821.31L284.55 821.31Z" fill="none" stroke="#a9a9a9" stroke-width="3.06" stroke-linejoin="round"/>
<path d="M192.92 802.97L183.76 821.31L202.09 821.31Z" fill="none" stroke="#ffa500" stroke-width="3.06" stroke-linejoin="round"/>
<circle cx="222.66" cy="813.5" r="9.17" fill="none" stroke="#008000" stroke-width="3.06"/>
<circle cx="171.23" cy="813.5" r="9.17" fill="none" stroke="#ffa500" stroke-width="3.06"/>
<circle cx="222.66" cy="815.14" r="9.17" fill="none" stroke="#008000" stroke-width="3.06"/>
<circle cx="177.93" cy="815.14" r="9.17" fill="none" stroke="#a9a9a9" stroke-width="3.06"/>
<circle cx="213.13" cy="815.14" r="9.17" fill="none" stroke="#ffa500" stroke-width="3.06"/>
<circle cx="238.33" cy="816.87" r="9.17" fill="none" stroke="#008000" stroke-width="3.06"/>
<circle cx="180.4" cy="816.87" r="9.17" fill="none" stroke="#a9a9a9" stroke-width="3.06"/>
<circle cx="221.27" cy="816.87" r="9.17" fill="none" stroke="#ffa500" stroke-width="3.06"/>
<circle cx="228.18" cy="818.6" r="9.17" fill="#008000" stroke="#008000" stroke-width="3.06"/>
<circle cx="172.1" cy="818.6" r="9.17" fill="#a9a9a9" stroke="#a9a9a9" stroke-width="3.06"/>
<circle cx="154.79" cy="818.6" r="9.17" fill="#ffa500" stroke="#ffa500" stroke-width="3.06"/>
<path d="M245.6 812.31L236.43 830.64L254.77 830.64Z" fill="none" stroke="#008000" stroke-width="3.06" stroke-linejoin="round"/>
<path d="M225.24 812.31L216.07 830.64L234.41 830.64Z" fill="none" stroke="#a9a9a9" stroke-width="3.06" stroke-linejoin="round"/>
<path d="M209.78 812.31L200.61 830.64L218.95 830.64Z" fill="none" stroke="#ffa500" stroke-width="3.06" stroke-linejoin="round"/>
<path d="M200.5 818.28L191.33 836.61L209.67 836.61Z" fill="#008000" stroke="#008000" stroke-width="3.06" stroke-linejoin="round"/>
<path d="M173.55 818.28L164.38 836.61L182.71 836.61Z" fill="#a9a9a9" stroke="#a9a9a9" stroke-width="3.06" stroke-linejoin="round"/>
<path d="M201.69 818.28L192.52 836.61L210.85 836.61Z" fill="#ffa500" stroke="#ffa500" stroke-width="3.06" stroke-linejoin="round"/>
<path d="M252.92 819.33L243.75 837.66L262.08 837.66Z" fill="#008000" stroke="#008000" stroke-width="3.06" stroke-linejoin="round"/>
<path d="M199.16 819.33L189.99 837.66L208.33 837.66Z" fill="#ffa500" stroke="#ffa500" stroke-width="3.06" stroke-linejoin="round"/>
<path d="M179.37 838.16L170.2 819.82L188.54 819.82Z" fill="none" stroke="#008000" stroke-width="3.06" stroke-linejoin="round"/>
<path d="M177.82 838.16L168.66 819.82L186.99 819.82Z" fill="none" stroke="#a9a9a9" stroke-width="3.06" stroke-linejoin="round"/>
<path d="M166.69 838.16L157.52 819.82L175.86 819.82Z" fill="none" stroke="#ffa500" stroke-width="3.06" stroke-linejoin="round"/>
<path d="M218.38 821.06L209.22 839.39L227.55 839.39Z" fill="#008000" stroke="#008000" stroke-width="3.06" stroke-linejoin="round"/>
<path d="M193.34 821.06L184.17 839.39L202.5 839.39Z" fill="#a9a9a9" stroke="#a9a9a9" stroke-width="3.06" stroke-linejoin="round"/>
<path d="M217.3 821.06L208.13 839.39L226.47 839.39Z" fill="#ffa500" stroke="#ffa500" stroke-width="3.06" stroke-linejoin="round"/>
<path d="M155.66 844.13L146.49 825.79L164.83 825.79Z" fill="#008000" stroke="#008000" stroke-width="3.06" stroke-linejoin="round"/>
<path d="M154.58 844.13L145.41 825.79L163.75 825.79Z" fill="#a9a9a9" stroke="#a9a9a9" stroke-width="3.06" stroke-linejoin="round"/>
<path d="M161.9 844.13L152.73 825.79L171.07 825.79Z" fill="#ffa500" stroke="#ffa500" stroke-width="3.06" stroke-linejoin="round"/>
<path d="M196.69 826.69L187.52 845.02L205.85 845.02Z" fill="#008000" stroke="#008000" stroke-width="3.06" stroke-linejoin="round"/>
<path d="M184.78 826.69L175.61 845.02L193.95 845.02Z" fill="#a9a9a9" stroke="#a9a9a9" stroke-width="3.06" stroke-linejoin="round"/>
<path d="M175.14 826.69L165.98 845.02L184.31 845.02Z" fill="#ffa500" stroke="#ffa500" stroke-width="3.06" stroke-linejoin="round"/>
<path d="M318.56 837.04L324.67 837.04L324.67 843.16L330.78 843.16L330.78 849.27L324.67 849.27L324.67 855.38L318.56 855.38L318.56 849.27L312.45 849.27L312.45 843.16L318.56 843.16Z" fill="none" stroke="#008000" stroke-width="3.06" stroke-linejoin="miter"/>
<path d="M182.6 837.04L188.71 837.04L188.71 843.16L194.83 843.16L194.83 849.27L188.71 849.27L188.71 855.38L182.6 855.38L182.6 849.27L176.49 849.27L176.49 843.16L182.6 843.16Z" fill="none" stroke="#a9a9a9" stroke-width="3.06" stroke-linejoin="miter"/>
<path d="M152.35 837.04L158.46 837.04L158.46 843.16L164.57 843.16L164.57 849.27L158.46 849.27L158.46 855.38L152.35 855.38L152.35 849.27L146.24 849.27L146.24 843.16L152.35 843.16Z" fill="none" stroke="#ffa500" stroke-width="3.06" stroke-linejoin="miter"/>
<path d="M189.68 841.59L180.51 859.93L198.85 859.93Z" fill="none" stroke="#008000" stroke-width="3.06" stroke-linejoin="round"/>
<path d="M187.93 841.59L178.76 859.93L197.09 859.93Z" fill="none" stroke="#a9a9a9" stroke-width="3.06" stroke-linejoin="round"/>
<path d="M192.31 841.59L183.14 859.93L201.47 859.93Z" fill="none" stroke="#ffa500" stroke-width="3.06" stroke-linejoin="round"/>
<path d="M212.3 842.92L203.13 861.26L221.47 861.26Z" fill="none" stroke="#008000" stroke-width="3.06" stroke-linejoin="round"/>
<path d="M180.86 842.92L171.7 861.26L190.03 861.26Z" fill="none" stroke="#a9a9a9" stroke-width="3.06" stroke-linejoin="round"/>
<path d="M190.66 842.92L181.49 861.26L199.82 861.26Z" fill="none" stroke="#ffa500" stroke-width="3.06" stroke-linejoin="round"/>
<path d="M225.75 867.72L216.59 886.05L234.92 886.05Z" fill="#008000" stroke="#008000" stroke-width="3.06" stroke-linejoin="round"/>
<path d="M182.67 867.72L173.5 886.05L191.84 886.05Z" fill="#a9a9a9" stroke="#a9a9a9" stroke-width="3.06" stroke-linejoin="round"/>
<path d="M217.82 867.72L208.65 886.05L226.99 886.05Z" fill="#ffa500" stroke="#ffa500" stroke-width="3.06" stroke-linejoin="round"/>
<path d="M277.81 222H329.86M253.59 289.1H313.37M434.49 288.48H439.64M194.32 295.9H231.42M193.8 323.73H494.27M204.11 329.3H249.98M350.48 333.63H357.69M212.35 342.9H258.74M205.65 375.37H245.85M258.22 384.65H301M213.39 386.19H244.31M232.97 397.94H245.34M209.26 409.39H240.7M514.89 429.79H898.85M350.48 429.18H579.31M313.37 432.58H404.08M275.75 474.32H320.59M248.95 496.58H307.7M247.92 505.24H292.24M198.95 506.17H235.55M177.31 516.37H235.03M230.39 521.32H247.4M201.53 525.96H214.42M180.92 533.38H249.46M207.2 529.98H248.43M220.6 536.63H253.07M168.55 552.86H168.55M216.48 556.57H243.28M179.37 572.03H266.47M171.12 577.6H243.28M174.47 580.07H241.73M171.12 582.24H522.62M179.37 586.87H270.08M218.02 600.79H244.82M234 612.54H291.72M467.47 630.01H671.57M154.89 647.79H223.69M179.37 647.79H251.52M338.11 648.41H750.94M453.56 653.97H1028.73M457.68 659.54H721.56M456.65 676.55H873.08M242.66 687.28H338.88M205.65 689.01H301.21M161.9 692.9H234.1M185.35 697.91H211.79M259.1 696.34H370.27M478.81 697.05H576.22M305.12 706.48H385.78M191.48 708.71H567.46M440.67 712.73H631.88M242.04 723.3H294.15M394.8 725.56H669.5M232.71 726.95H532.93M167.1 730.75H229.57M267.29 740.8H368.41M245.24 743.03H319.25M394.29 742.87H571.58M237.45 748.81H246.22M188.08 749.65H337.95M201.22 752.21H251.83M199.11 757.31H320.84M187.51 763.25H203.08M155.82 764.27H352.95M222.82 763.9H463.86M193.96 771.07H231.17M164.17 771.85H209.21M141.23 772H274.36M205.65 772.09H299.2M215.03 771.63H221.89M169.58 775.16H221.06M208.13 775.8H244.62M246.22 779.52H263.74M301.47 781.19H556.63M158.75 784.9H191.28M145.41 788.11H227.46M157.1 788.42H231.63M214.62 788.79H289.35M200.45 791.64H453.04M145.41 794.82H295.02M350.22 794.67H789.59M173.13 796.43H333.47M188.75 795.75H196.69M202.92 794.76H235.39M187.51 801.38H261.93M165.4 805.83H314.61M173.75 805.52H211.27M225.24 808.52H243.95M161.02 811.36H197.51M192.92 812.14H275.39M171.23 813.5H222.66M177.93 815.14H222.66M180.4 816.87H238.33M154.79 818.6H228.18M209.78 821.48H245.6M173.55 827.44H201.69M199.16 828.49H252.92M166.69 828.99H179.37M193.34 830.23H218.38M154.58 834.96H161.9M175.14 835.85H196.69M155.4 846.21H321.62M187.93 850.76H192.31M180.86 852.09H212.3M182.67 876.89H225.75" class="dl"/>
</g>
<path d="M140.2 882.79H397.89V666.34H140.2Z" stroke="#000" stroke-width="4.58" fill="none" stroke-dasharray="4.58 7.56"/>
<text x="407.3" y="867.2" text-anchor="start">Panel b)</text>
<text x="186.2" y="236" text-anchor="start">a)</text>
<rect x="140.2" y="171.6" width="927.7" height="865.8" fill="none" stroke="#000" stroke-width="2.44"/>
<text x="140.2" y="1082" text-anchor="middle">0</text>
<text x="243.28" y="1082" text-anchor="middle">20</text>
<text x="346.36" y="1082" text-anchor="middle">40</text>
<text x="449.43" y="1082" text-anchor="middle">60</text>
<text x="552.51" y="1082" text-anchor="middle">80</text>
<text x="655.59" y="1082" text-anchor="middle">100</text>
<text x="758.67" y="1082" text-anchor="middle">120</text>
<text x="861.74" y="1082" text-anchor="middle">140</text>
<text x="964.82" y="1082" text-anchor="middle">160</text>
<text x="1067.9" y="1082" text-anchor="middle">180</text>
<text x="119" y="955.74" text-anchor="end">0</text>
<text x="119" y="801.13" text-anchor="end">500</text>
<text x="119" y="646.52" text-anchor="end">1000</text>
<text x="119" y="491.91" text-anchor="end">1500</text>
<text x="119" y="337.31" text-anchor="end">2000</text>
<text x="119" y="182.7" text-anchor="end">2500</text>
<path d="M140.2 1037.4v10.7M243.28 1037.4v10.7M346.36 1037.4v10.7M449.43 1037.4v10.7M552.51 1037.4v10.7M655.59 1037.4v10.7M758.67 1037.4v10.7M861.74 1037.4v10.7M964.82 1037.4v10.7M1067.9 1037.4v10.7M140.2 944.64h-10.7M140.2 790.03h-10.7M140.2 635.42h-10.7M140.2 480.81h-10.7M140.2 326.21h-10.7M140.2 171.6h-10.7" stroke="#000" stroke-width="2.44" fill="none"/>
<text x="604.05" y="1124.2" text-anchor="middle">Peak melt rate [m/yr]</text>
<text transform="translate(24.8 604.5) rotate(-90)" text-anchor="middle">Ice thickness [m]</text>
<g clip-path="url(#cb)">
<rect x="1372.29" y="171.7" width="59.34" height="61.83" fill="#fef392"/>
<rect x="1431.63" y="171.7" width="59.34" height="61.83" fill="#fef392"/>
<rect x="1490.98" y="171.7" width="59.34" height="61.83" fill="#fef392"/>
<rect x="1550.32" y="171.7" width="59.34" height="61.83" fill="#d9ee96"/>
<rect x="1609.66" y="171.7" width="59.34" height="61.83" fill="#deef93"/>
<rect x="1669.01" y="171.7" width="59.34" height="61.83" fill="#cdec9e"/>
<rect x="1728.35" y="171.7" width="59.34" height="61.83" fill="#b3e6ae"/>
<rect x="1787.7" y="171.7" width="59.34" height="61.83" fill="#95d8bf"/>
<rect x="1847.04" y="171.7" width="59.34" height="61.83" fill="#afe4b0"/>
<rect x="1906.38" y="171.7" width="59.34" height="61.83" fill="#91d3c2"/>
<rect x="1965.73" y="171.7" width="59.34" height="61.83" fill="#90d2c2"/>
<rect x="1372.29" y="233.53" width="59.34" height="61.83" fill="#fef392"/>
<rect x="1431.63" y="233.53" width="59.34" height="61.83" fill="#fef392"/>
<rect x="1490.98" y="233.53" width="59.34" height="61.83" fill="#fef392"/>
<rect x="1550.32" y="233.53" width="59.34" height="61.83" fill="#deef93"/>
<rect x="1609.66" y="233.53" width="59.34" height="61.83" fill="#bce8a8"/>
<rect x="1669.01" y="233.53" width="59.34" height="61.83" fill="#afe4b0"/>
<rect x="1728.35" y="233.53" width="59.34" height="61.83" fill="#a9e2b3"/>
<rect x="1787.7" y="233.53" width="59.34" height="61.83" fill="#a5e1b6"/>
<rect x="1847.04" y="233.53" width="59.34" height="61.83" fill="#8fcdc4"/>
<rect x="1906.38" y="233.53" width="59.34" height="61.83" fill="#afe4b0"/>
<rect x="1965.73" y="233.53" width="59.34" height="61.83" fill="#a9e2b3"/>
<rect x="1372.29" y="295.36" width="59.34" height="61.83" fill="#fef392"/>
<rect x="1431.63" y="295.36" width="59.34" height="61.83" fill="#fef392"/>
<rect x="1490.98" y="295.36" width="59.34" height="61.83" fill="#d9ee96"/>
<rect x="1550.32" y="295.36" width="59.34" height="61.83" fill="#c8eba1"/>
<rect x="1609.66" y="295.36" width="59.34" height="61.83" fill="#afe4b0"/>
<rect x="1669.01" y="295.36" width="59.34" height="61.83" fill="#9dddba"/>
<rect x="1728.35" y="295.36" width="59.34" height="61.83" fill="#9dddba"/>
<rect x="1787.7" y="295.36" width="59.34" height="61.83" fill="#95d8bf"/>
<rect x="1847.04" y="295.36" width="59.34" height="61.83" fill="#92d5c0"/>
<rect x="1906.38" y="295.36" width="59.34" height="61.83" fill="#91d3c2"/>
<rect x="1965.73" y="295.36" width="59.34" height="61.83" fill="#91d3c2"/>
<rect x="1372.29" y="357.19" width="59.34" height="61.83" fill="#fef392"/>
<rect x="1431.63" y="357.19" width="59.34" height="61.83" fill="#fef392"/>
<rect x="1490.98" y="357.19" width="59.34" height="61.83" fill="#d9ee96"/>
<rect x="1550.32" y="357.19" width="59.34" height="61.83" fill="#afe4b0"/>
<rect x="1609.66" y="357.19" width="59.34" height="61.83" fill="#9adbbc"/>
<rect x="1669.01" y="357.19" width="59.34" height="61.83" fill="#91d3c2"/>
<rect x="1728.35" y="357.19" width="59.34" height="61.83" fill="#90d2c2"/>
<rect x="1787.7" y="357.19" width="59.34" height="61.83" fill="#8fd0c3"/>
<rect x="1847.04" y="357.19" width="59.34" height="61.83" fill="#8fd0c3"/>
<rect x="1906.38" y="357.19" width="59.34" height="61.83" fill="#8fd0c3"/>
<rect x="1965.73" y="357.19" width="59.34" height="61.83" fill="#8fcdc4"/>
<rect x="1372.29" y="419.01" width="59.34" height="61.83" fill="#fef392"/>
<rect x="1431.63" y="419.01" width="59.34" height="61.83" fill="#fef392"/>
<rect x="1490.98" y="419.01" width="59.34" height="61.83" fill="#fef392"/>
<rect x="1550.32" y="419.01" width="59.34" height="61.83" fill="#95d8bf"/>
<rect x="1609.66" y="419.01" width="59.34" height="61.83" fill="#91d3c2"/>
<rect x="1669.01" y="419.01" width="59.34" height="61.83" fill="#8fd0c3"/>
<rect x="1728.35" y="419.01" width="59.34" height="61.83" fill="#90c8c6"/>
<rect x="1787.7" y="419.01" width="59.34" height="61.83" fill="#90c8c6"/>
<rect x="1847.04" y="419.01" width="59.34" height="61.83" fill="#92c2c6"/>
<rect x="1906.38" y="419.01" width="59.34" height="61.83" fill="#90c8c6"/>
<rect x="1965.73" y="419.01" width="59.34" height="61.83" fill="#8fccc5"/>
<rect x="1372.29" y="480.84" width="59.34" height="61.83" fill="#fef392"/>
<rect x="1431.63" y="480.84" width="59.34" height="61.83" fill="#fef392"/>
<rect x="1490.98" y="480.84" width="59.34" height="61.83" fill="#90d2c2"/>
<rect x="1550.32" y="480.84" width="59.34" height="61.83" fill="#91c4c6"/>
<rect x="1609.66" y="480.84" width="59.34" height="61.83" fill="#92c2c6"/>
<rect x="1669.01" y="480.84" width="59.34" height="61.83" fill="#94bdc7"/>
<rect x="1728.35" y="480.84" width="59.34" height="61.83" fill="#95bac7"/>
<rect x="1787.7" y="480.84" width="59.34" height="61.83" fill="#99b1c6"/>
<rect x="1847.04" y="480.84" width="59.34" height="61.83" fill="#99b1c6"/>
<rect x="1906.38" y="480.84" width="59.34" height="61.83" fill="#99b1c6"/>
<rect x="1965.73" y="480.84" width="59.34" height="61.83" fill="#99b1c6"/>
<rect x="1372.29" y="542.67" width="59.34" height="61.83" fill="#fef392"/>
<rect x="1431.63" y="542.67" width="59.34" height="61.83" fill="#c3eaa4"/>
<rect x="1490.98" y="542.67" width="59.34" height="61.83" fill="#c3eaa4"/>
<rect x="1550.32" y="542.67" width="59.34" height="61.83" fill="#95bac7"/>
<rect x="1609.66" y="542.67" width="59.34" height="61.83" fill="#97b5c7"/>
<rect x="1669.01" y="542.67" width="59.34" height="61.83" fill="#9aafc6"/>
<rect x="1728.35" y="542.67" width="59.34" height="61.83" fill="#9da9c5"/>
<rect x="1787.7" y="542.67" width="59.34" height="61.83" fill="#9fa4c4"/>
<rect x="1847.04" y="542.67" width="59.34" height="61.83" fill="#9fa4c4"/>
<rect x="1906.38" y="542.67" width="59.34" height="61.83" fill="#9fa4c4"/>
<rect x="1965.73" y="542.67" width="59.34" height="61.83" fill="#9fa4c4"/>
<rect x="1372.29" y="604.5" width="59.34" height="61.83" fill="#fef392"/>
<rect x="1431.63" y="604.5" width="59.34" height="61.83" fill="#91d3c2"/>
<rect x="1490.98" y="604.5" width="59.34" height="61.83" fill="#91d3c2"/>
<rect x="1550.32" y="604.5" width="59.34" height="61.83" fill="#9aafc6"/>
<rect x="1609.66" y="604.5" width="59.34" height="61.83" fill="#9da9c5"/>
<rect x="1669.01" y="604.5" width="59.34" height="61.83" fill="#a389b2"/>
<rect x="1728.35" y="604.5" width="59.34" height="61.83" fill="#a386af"/>
<rect x="1787.7" y="604.5" width="59.34" height="61.83" fill="#a386af"/>
<rect x="1847.04" y="604.5" width="59.34" height="61.83" fill="#a386af"/>
<rect x="1906.38" y="604.5" width="59.34" height="61.83" fill="#a386af"/>
<rect x="1965.73" y="604.5" width="59.34" height="61.83" fill="#a386af"/>
<rect x="1372.29" y="666.33" width="59.34" height="61.83" fill="#fef392"/>
<rect x="1431.63" y="666.33" width="59.34" height="61.83" fill="#9aafc6"/>
<rect x="1490.98" y="666.33" width="59.34" height="61.83" fill="#a48cb5"/>
<rect x="1550.32" y="666.33" width="59.34" height="61.83" fill="#a283ad"/>
<rect x="1609.66" y="666.33" width="59.34" height="61.83" fill="#a280aa"/>
<rect x="1669.01" y="666.33" width="59.34" height="61.83" fill="#a280aa"/>
<rect x="1728.35" y="666.33" width="59.34" height="61.83" fill="#a280aa"/>
<rect x="1787.7" y="666.33" width="59.34" height="61.83" fill="#a280aa"/>
<rect x="1847.04" y="666.33" width="59.34" height="61.83" fill="#a280aa"/>
<rect x="1906.38" y="666.33" width="59.34" height="61.83" fill="#a280aa"/>
<rect x="1965.73" y="666.33" width="59.34" height="61.83" fill="#a280aa"/>
<rect x="1372.29" y="728.16" width="59.34" height="61.83" fill="#90d2c2"/>
<rect x="1431.63" y="728.16" width="59.34" height="61.83" fill="#a48cb5"/>
<rect x="1490.98" y="728.16" width="59.34" height="61.83" fill="#a280aa"/>
<rect x="1550.32" y="728.16" width="59.34" height="61.83" fill="#a280aa"/>
<rect x="1609.66" y="728.16" width="59.34" height="61.83" fill="#a280aa"/>
<rect x="1669.01" y="728.16" width="59.34" height="61.83" fill="#a280aa"/>
<rect x="1728.35" y="728.16" width="59.34" height="61.83" fill="#a280aa"/>
<rect x="1787.7" y="728.16" width="59.34" height="61.83" fill="#a280aa"/>
<rect x="1847.04" y="728.16" width="59.34" height="61.83" fill="#a280aa"/>
<rect x="1906.38" y="728.16" width="59.34" height="61.83" fill="#a280aa"/>
<rect x="1965.73" y="728.16" width="59.34" height="61.83" fill="#a280aa"/>
<rect x="1372.29" y="789.99" width="59.34" height="61.83" fill="#a48fb8"/>
<rect x="1431.63" y="789.99" width="59.34" height="61.83" fill="#a280aa"/>
<rect x="1490.98" y="789.99" width="59.34" height="61.83" fill="#a280aa"/>
<rect x="1550.32" y="789.99" width="59.34" height="61.83" fill="#a280aa"/>
<rect x="1609.66" y="789.99" width="59.34" height="61.83" fill="#a280aa"/>
<rect x="1669.01" y="789.99" width="59.34" height="61.83" fill="#a280aa"/>
<rect x="1728.35" y="789.99" width="59.34" height="61.83" fill="#a280aa"/>
<rect x="1787.7" y="789.99" width="59.34" height="61.83" fill="#a280aa"/>
<rect x="1847.04" y="789.99" width="59.34" height="61.83" fill="#a280aa"/>
<rect x="1906.38" y="789.99" width="59.34" height="61.83" fill="#a280aa"/>
<rect x="1965.73" y="789.99" width="59.34" height="61.83" fill="#a280aa"/>
<rect x="1372.29" y="851.81" width="59.34" height="61.83" fill="#a280aa"/>
<rect x="1431.63" y="851.81" width="59.34" height="61.83" fill="#a280aa"/>
<rect x="1490.98" y="851.81" width="59.34" height="61.83" fill="#a280aa"/>
<rect x="1550.32" y="851.81" width="59.34" height="61.83" fill="#a280aa"/>
<rect x="1609.66" y="851.81" width="59.34" height="61.83" fill="#a280aa"/>
<rect x="1669.01" y="851.81" width="59.34" height="61.83" fill="#a280aa"/>
<rect x="1728.35" y="851.81" width="59.34" height="61.83" fill="#a280aa"/>
<rect x="1787.7" y="851.81" width="59.34" height="61.83" fill="#a280aa"/>
<rect x="1847.04" y="851.81" width="59.34" height="61.83" fill="#a280aa"/>
<rect x="1906.38" y="851.81" width="59.34" height="61.83" fill="#a280aa"/>
<rect x="1965.73" y="851.81" width="59.34" height="61.83" fill="#a280aa"/>
<rect x="1372.29" y="913.64" width="59.34" height="61.83" fill="#a280aa"/>
<rect x="1431.63" y="913.64" width="59.34" height="61.83" fill="#a280aa"/>
<rect x="1490.98" y="913.64" width="59.34" height="61.83" fill="#a280aa"/>
<rect x="1550.32" y="913.64" width="59.34" height="61.83" fill="#a280aa"/>
<rect x="1609.66" y="913.64" width="59.34" height="61.83" fill="#a280aa"/>
<rect x="1669.01" y="913.64" width="59.34" height="61.83" fill="#a280aa"/>
<rect x="1728.35" y="913.64" width="59.34" height="61.83" fill="#a280aa"/>
<rect x="1787.7" y="913.64" width="59.34" height="61.83" fill="#a280aa"/>
<rect x="1847.04" y="913.64" width="59.34" height="61.83" fill="#a280aa"/>
<rect x="1906.38" y="913.64" width="59.34" height="61.83" fill="#a280aa"/>
<rect x="1965.73" y="913.64" width="59.34" height="61.83" fill="#a280aa"/>
<rect x="1372.29" y="975.47" width="59.34" height="61.83" fill="#a280aa"/>
<rect x="1431.63" y="975.47" width="59.34" height="61.83" fill="#a280aa"/>
<rect x="1490.98" y="975.47" width="59.34" height="61.83" fill="#a280aa"/>
<rect x="1550.32" y="975.47" width="59.34" height="61.83" fill="#a280aa"/>
<rect x="1609.66" y="975.47" width="59.34" height="61.83" fill="#a280aa"/>
<rect x="1669.01" y="975.47" width="59.34" height="61.83" fill="#a280aa"/>
<rect x="1728.35" y="975.47" width="59.34" height="61.83" fill="#a280aa"/>
<rect x="1787.7" y="975.47" width="59.34" height="61.83" fill="#a280aa"/>
<rect x="1847.04" y="975.47" width="59.34" height="61.83" fill="#a280aa"/>
<rect x="1906.38" y="975.47" width="59.34" height="61.83" fill="#a280aa"/>
<rect x="1965.73" y="975.47" width="59.34" height="61.83" fill="#a280aa"/>
<path d="M1790.4 -1614.42L1808.73 -1614.42L1808.73 -1596.09L1790.4 -1596.09Z" fill="none" stroke="#008000" stroke-width="3.06" stroke-linejoin="round"/>
<path d="M1645 -1614.42L1663.34 -1614.42L1663.34 -1596.09L1645 -1596.09Z" fill="none" stroke="#a9a9a9" stroke-width="3.06" stroke-linejoin="round"/>
<path d="M1640.55 -1614.42L1658.89 -1614.42L1658.89 -1596.09L1640.55 -1596.09Z" fill="none" stroke="#ffa500" stroke-width="3.06" stroke-linejoin="round"/>
<path d="M1742.92 -1346.09L1761.26 -1346.09L1761.26 -1327.75L1742.92 -1327.75Z" fill="none" stroke="#008000" stroke-width="3.06" stroke-linejoin="round"/>
<path d="M1570.82 -1346.09L1589.16 -1346.09L1589.16 -1327.75L1570.82 -1327.75Z" fill="none" stroke="#a9a9a9" stroke-width="3.06" stroke-linejoin="round"/>
<path d="M1685.06 -1346.09L1703.4 -1346.09L1703.4 -1327.75L1685.06 -1327.75Z" fill="none" stroke="#ffa500" stroke-width="3.06" stroke-linejoin="round"/>
<path d="M2112.52 -1348.56L2118.63 -1348.56L2118.63 -1342.45L2124.74 -1342.45L2124.74 -1336.33L2118.63 -1336.33L2118.63 -1330.22L2112.52 -1330.22L2112.52 -1336.33L2106.4 -1336.33L2106.4 -1342.45L2112.52 -1342.45Z" fill="none" stroke="#008000" stroke-width="3.06" stroke-linejoin="miter"/>
<path d="M2097.68 -1348.56L2103.79 -1348.56L2103.79 -1342.45L2109.9 -1342.45L2109.9 -1336.33L2103.79 -1336.33L2103.79 -1330.22L2097.68 -1330.22L2097.68 -1336.33L2091.57 -1336.33L2091.57 -1342.45L2097.68 -1342.45Z" fill="none" stroke="#a9a9a9" stroke-width="3.06" stroke-linejoin="miter"/>
<path d="M2105.1 -1348.56L2111.21 -1348.56L2111.21 -1342.45L2117.32 -1342.45L2117.32 -1336.33L2111.21 -1336.33L2111.21 -1330.22L2105.1 -1330.22L2105.1 -1336.33L2098.99 -1336.33L2098.99 -1342.45L2105.1 -1342.45Z" fill="none" stroke="#ffa500" stroke-width="3.06" stroke-linejoin="miter"/>
<path d="M1507.03 -1318.88L1525.37 -1318.88L1525.37 -1300.54L1507.03 -1300.54Z" fill="none" stroke="#008000" stroke-width="3.06" stroke-linejoin="round"/>
<path d="M1400.21 -1318.88L1418.55 -1318.88L1418.55 -1300.54L1400.21 -1300.54Z" fill="none" stroke="#a9a9a9" stroke-width="3.06" stroke-linejoin="round"/>
<path d="M1499.61 -1318.88L1517.95 -1318.88L1517.95 -1300.54L1499.61 -1300.54Z" fill="none" stroke="#ffa500" stroke-width="3.06" stroke-linejoin="round"/>
<path d="M2269.78 -1207.59L2275.89 -1207.59L2275.89 -1201.48L2282 -1201.48L2282 -1195.37L2275.89 -1195.37L2275.89 -1189.25L2269.78 -1189.25L2269.78 -1195.37L2263.67 -1195.37L2263.67 -1201.48L2269.78 -1201.48Z" fill="#008000" stroke="#008000" stroke-width="3.06" stroke-linejoin="miter"/>
<path d="M1404.84 -1207.59L1410.95 -1207.59L1410.95 -1201.48L1417.06 -1201.48L1417.06 -1195.37L1410.95 -1195.37L1410.95 -1189.25L1404.84 -1189.25L1404.84 -1195.37L1398.73 -1195.37L1398.73 -1201.48L1404.84 -1201.48Z" fill="#a9a9a9" stroke="#a9a9a9" stroke-width="3.06" stroke-linejoin="miter"/>
<path d="M1878.11 -1207.59L1884.22 -1207.59L1884.22 -1201.48L1890.33 -1201.48L1890.33 -1195.37L1884.22 -1195.37L1884.22 -1189.25L1878.11 -1189.25L1878.11 -1195.37L1871.99 -1195.37L1871.99 -1201.48L1878.11 -1201.48Z" fill="#ffa500" stroke="#ffa500" stroke-width="3.06" stroke-linejoin="miter"/>
<path d="M1483.29 -1185.33L1501.63 -1185.33L1501.63 -1166.99L1483.29 -1166.99Z" fill="#008000" stroke="#008000" stroke-width="3.06" stroke-linejoin="round"/>
<path d="M1428.4 -1185.33L1446.73 -1185.33L1446.73 -1166.99L1428.4 -1166.99Z" fill="#a9a9a9" stroke="#a9a9a9" stroke-width="3.06" stroke-linejoin="round"/>
<path d="M1560.44 -1185.33L1578.77 -1185.33L1578.77 -1166.99L1560.44 -1166.99Z" fill="#ffa500" stroke="#ffa500" stroke-width="3.06" stroke-linejoin="round"/>
<path d="M1437.3 -1177.91L1455.64 -1177.91L1455.64 -1159.58L1437.3 -1159.58Z" fill="#a9a9a9" stroke="#a9a9a9" stroke-width="3.06" stroke-linejoin="round"/>
<path d="M1855.85 -1168.02L1861.96 -1168.02L1861.96 -1161.91L1868.08 -1161.91L1868.08 -1155.79L1861.96 -1155.79L1861.96 -1149.68L1855.85 -1149.68L1855.85 -1155.79L1849.74 -1155.79L1849.74 -1161.91L1855.85 -1161.91Z" fill="none" stroke="#a9a9a9" stroke-width="3.06" stroke-linejoin="miter"/>
<path d="M1876.62 -1168.02L1882.74 -1168.02L1882.74 -1161.91L1888.85 -1161.91L1888.85 -1155.79L1882.74 -1155.79L1882.74 -1149.68L1876.62 -1149.68L1876.62 -1155.79L1870.51 -1155.79L1870.51 -1161.91L1876.62 -1161.91Z" fill="none" stroke="#ffa500" stroke-width="3.06" stroke-linejoin="miter"/>
<path d="M1496.64 -1130.92L1514.98 -1130.92L1514.98 -1112.59L1496.64 -1112.59Z" fill="none" stroke="#008000" stroke-width="3.06" stroke-linejoin="round"/>
<path d="M1452.14 -1130.92L1470.47 -1130.92L1470.47 -1112.59L1452.14 -1112.59Z" fill="none" stroke="#a9a9a9" stroke-width="3.06" stroke-linejoin="round"/>
<path d="M1585.66 -1130.92L1604 -1130.92L1604 -1112.59L1585.66 -1112.59Z" fill="none" stroke="#ffa500" stroke-width="3.06" stroke-linejoin="round"/>
<path d="M1536.7 -1001.08L1555.04 -1001.08L1555.04 -982.75L1536.7 -982.75Z" fill="none" stroke="#008000" stroke-width="3.06" stroke-linejoin="round"/>
<path d="M1432.85 -1001.08L1451.19 -1001.08L1451.19 -982.75L1432.85 -982.75Z" fill="none" stroke="#a9a9a9" stroke-width="3.06" stroke-linejoin="round"/>
<path d="M1548.57 -1001.08L1566.91 -1001.08L1566.91 -982.75L1548.57 -982.75Z" fill="none" stroke="#ffa500" stroke-width="3.06" stroke-linejoin="round"/>
<path d="M1590.29 -963.98L1596.4 -963.98L1596.4 -957.87L1602.51 -957.87L1602.51 -951.76L1596.4 -951.76L1596.4 -945.65L1590.29 -945.65L1590.29 -951.76L1584.18 -951.76L1584.18 -957.87L1590.29 -957.87Z" fill="none" stroke="#008000" stroke-width="3.06" stroke-linejoin="miter"/>
<path d="M1593.26 -963.98L1599.37 -963.98L1599.37 -957.87L1605.48 -957.87L1605.48 -951.76L1599.37 -951.76L1599.37 -945.65L1593.26 -945.65L1593.26 -951.76L1587.14 -951.76L1587.14 -957.87L1593.26 -957.87Z" fill="none" stroke="#a9a9a9" stroke-width="3.06" stroke-linejoin="miter"/>
<path d="M1713.43 -963.98L1719.54 -963.98L1719.54 -957.87L1725.65 -957.87L1725.65 -951.76L1719.54 -951.76L1719.54 -945.65L1713.43 -945.65L1713.43 -951.76L1707.32 -951.76L1707.32 -957.87L1713.43 -957.87Z" fill="none" stroke="#ffa500" stroke-width="3.06" stroke-linejoin="miter"/>
<path d="M1511.48 -957.8L1529.82 -957.8L1529.82 -939.47L1511.48 -939.47Z" fill="none" stroke="#008000" stroke-width="3.06" stroke-linejoin="round"/>
<path d="M1455.1 -957.8L1473.44 -957.8L1473.44 -939.47L1455.1 -939.47Z" fill="none" stroke="#a9a9a9" stroke-width="3.06" stroke-linejoin="round"/>
<path d="M1544.12 -957.8L1562.46 -957.8L1562.46 -939.47L1544.12 -939.47Z" fill="none" stroke="#ffa500" stroke-width="3.06" stroke-linejoin="round"/>
<path d="M1547.09 -910.81L1565.42 -910.81L1565.42 -892.48L1547.09 -892.48Z" fill="none" stroke="#008000" stroke-width="3.06" stroke-linejoin="round"/>
<path d="M1511.48 -910.81L1529.82 -910.81L1529.82 -892.48L1511.48 -892.48Z" fill="none" stroke="#a9a9a9" stroke-width="3.06" stroke-linejoin="round"/>
<path d="M1533.73 -910.81L1552.07 -910.81L1552.07 -892.48L1533.73 -892.48Z" fill="none" stroke="#ffa500" stroke-width="3.06" stroke-linejoin="round"/>
<path d="M1501.09 -865.06L1519.43 -865.06L1519.43 -846.72L1501.09 -846.72Z" fill="none" stroke="#008000" stroke-width="3.06" stroke-linejoin="round"/>
<path d="M1443.23 -865.06L1461.57 -865.06L1461.57 -846.72L1443.23 -846.72Z" fill="none" stroke="#a9a9a9" stroke-width="3.06" stroke-linejoin="round"/>
<path d="M1533.73 -865.06L1552.07 -865.06L1552.07 -846.72L1533.73 -846.72Z" fill="none" stroke="#ffa500" stroke-width="3.06" stroke-linejoin="round"/>
<path d="M3437.46 -783.45L3428.29 -765.11L3446.63 -765.11Z" fill="none" stroke="#008000" stroke-width="3.06" stroke-linejoin="round"/>
<path d="M2332.18 -783.45L2323.01 -765.11L2341.35 -765.11Z" fill="none" stroke="#ffa500" stroke-width="3.06" stroke-linejoin="round"/>
<path d="M2514.57 -785.92L2520.68 -785.92L2520.68 -779.81L2526.8 -779.81L2526.8 -773.69L2520.68 -773.69L2520.68 -767.58L2514.57 -767.58L2514.57 -773.69L2508.46 -773.69L2508.46 -779.81L2514.57 -779.81Z" fill="none" stroke="#008000" stroke-width="3.06" stroke-linejoin="miter"/>
<path d="M1855.85 -785.92L1861.96 -785.92L1861.96 -779.81L1868.08 -779.81L1868.08 -773.69L1861.96 -773.69L1861.96 -767.58L1855.85 -767.58L1855.85 -773.69L1849.74 -773.69L1849.74 -779.81L1855.85 -779.81Z" fill="none" stroke="#a9a9a9" stroke-width="3.06" stroke-linejoin="miter"/>
<path d="M1898.88 -785.92L1904.99 -785.92L1904.99 -779.81L1911.1 -779.81L1911.1 -773.69L1904.99 -773.69L1904.99 -767.58L1898.88 -767.58L1898.88 -773.69L1892.77 -773.69L1892.77 -779.81L1898.88 -779.81Z" fill="none" stroke="#ffa500" stroke-width="3.06" stroke-linejoin="miter"/>
<path d="M2010.15 -772.32L2016.26 -772.32L2016.26 -766.2L2022.37 -766.2L2022.37 -760.09L2016.26 -760.09L2016.26 -753.98L2010.15 -753.98L2010.15 -760.09L2004.04 -760.09L2004.04 -766.2L2010.15 -766.2Z" fill="#008000" stroke="#008000" stroke-width="3.06" stroke-linejoin="miter"/>
<path d="M1749.03 -772.32L1755.15 -772.32L1755.15 -766.2L1761.26 -766.2L1761.26 -760.09L1755.15 -760.09L1755.15 -753.98L1749.03 -753.98L1749.03 -760.09L1742.92 -760.09L1742.92 -766.2L1749.03 -766.2Z" fill="#a9a9a9" stroke="#a9a9a9" stroke-width="3.06" stroke-linejoin="miter"/>
<path d="M1821.73 -772.32L1827.84 -772.32L1827.84 -766.2L1833.95 -766.2L1833.95 -760.09L1827.84 -760.09L1827.84 -753.98L1821.73 -753.98L1821.73 -760.09L1815.62 -760.09L1815.62 -766.2L1821.73 -766.2Z" fill="#ffa500" stroke="#ffa500" stroke-width="3.06" stroke-linejoin="miter"/>
<path d="M1640.73 -605.38L1646.84 -605.38L1646.84 -599.27L1652.95 -599.27L1652.95 -593.15L1646.84 -593.15L1646.84 -587.04L1640.73 -587.04L1640.73 -593.15L1634.62 -593.15L1634.62 -599.27L1640.73 -599.27Z" fill="none" stroke="#008000" stroke-width="3.06" stroke-linejoin="miter"/>
<path d="M1660.02 -605.38L1666.13 -605.38L1666.13 -599.27L1672.24 -599.27L1672.24 -593.15L1666.13 -593.15L1666.13 -587.04L1660.02 -587.04L1660.02 -593.15L1653.91 -593.15L1653.91 -599.27L1660.02 -599.27Z" fill="none" stroke="#a9a9a9" stroke-width="3.06" stroke-linejoin="miter"/>
<path d="M1769.8 -605.38L1775.92 -605.38L1775.92 -599.27L1782.03 -599.27L1782.03 -593.15L1775.92 -593.15L1775.92 -587.04L1769.8 -587.04L1769.8 -593.15L1763.69 -593.15L1763.69 -599.27L1769.8 -599.27Z" fill="none" stroke="#ffa500" stroke-width="3.06" stroke-linejoin="miter"/>
<path d="M1732.71 -516.35L1738.83 -516.35L1738.83 -510.23L1744.94 -510.23L1744.94 -504.12L1738.83 -504.12L1738.83 -498.01L1732.71 -498.01L1732.71 -504.12L1726.6 -504.12L1726.6 -510.23L1732.71 -510.23Z" fill="none" stroke="#008000" stroke-width="3.06" stroke-linejoin="miter"/>
<path d="M1563.58 -516.35L1569.7 -516.35L1569.7 -510.23L1575.81 -510.23L1575.81 -504.12L1569.7 -504.12L1569.7 -498.01L1563.58 -498.01L1563.58 -504.12L1557.47 -504.12L1557.47 -510.23L1563.58 -510.23Z" fill="none" stroke="#a9a9a9" stroke-width="3.06" stroke-linejoin="miter"/>
<path d="M1665.95 -516.35L1672.06 -516.35L1672.06 -510.23L1678.18 -510.23L1678.18 -504.12L1672.06 -504.12L1672.06 -498.01L1665.95 -498.01L1665.95 -504.12L1659.84 -504.12L1659.84 -510.23L1665.95 -510.23Z" fill="none" stroke="#ffa500" stroke-width="3.06" stroke-linejoin="miter"/>
<path d="M1688.21 -481.72L1694.32 -481.72L1694.32 -475.61L1700.43 -475.61L1700.43 -469.5L1694.32 -469.5L1694.32 -463.39L1688.21 -463.39L1688.21 -469.5L1682.09 -469.5L1682.09 -475.61L1688.21 -475.61Z" fill="none" stroke="#008000" stroke-width="3.06" stroke-linejoin="miter"/>
<path d="M1560.62 -481.72L1566.73 -481.72L1566.73 -475.61L1572.84 -475.61L1572.84 -469.5L1566.73 -469.5L1566.73 -463.39L1560.62 -463.39L1560.62 -469.5L1554.5 -469.5L1554.5 -475.61L1560.62 -475.61Z" fill="none" stroke="#a9a9a9" stroke-width="3.06" stroke-linejoin="miter"/>
<path d="M1634.8 -481.72L1640.91 -481.72L1640.91 -475.61L1647.02 -475.61L1647.02 -469.5L1640.91 -469.5L1640.91 -463.39L1634.8 -463.39L1634.8 -469.5L1628.68 -469.5L1628.68 -475.61L1634.8 -475.61Z" fill="none" stroke="#ffa500" stroke-width="3.06" stroke-linejoin="miter"/>
<path d="M1518.9 -478.01L1537.23 -478.01L1537.23 -459.68L1518.9 -459.68Z" fill="none" stroke="#008000" stroke-width="3.06" stroke-linejoin="round"/>
<path d="M1413.56 -478.01L1431.9 -478.01L1431.9 -459.68L1413.56 -459.68Z" fill="none" stroke="#a9a9a9" stroke-width="3.06" stroke-linejoin="round"/>
<path d="M1434.33 -478.01L1452.67 -478.01L1452.67 -459.68L1434.33 -459.68Z" fill="none" stroke="#ffa500" stroke-width="3.06" stroke-linejoin="round"/>
<path d="M1517.41 -437.21L1535.75 -437.21L1535.75 -418.87L1517.41 -418.87Z" fill="none" stroke="#008000" stroke-width="3.06" stroke-linejoin="round"/>
<path d="M1351.25 -437.21L1369.59 -437.21L1369.59 -418.87L1351.25 -418.87Z" fill="none" stroke="#a9a9a9" stroke-width="3.06" stroke-linejoin="round"/>
<path d="M1444.72 -437.21L1463.05 -437.21L1463.05 -418.87L1444.72 -418.87Z" fill="none" stroke="#ffa500" stroke-width="3.06" stroke-linejoin="round"/>
<path d="M1391.31 -431.02L1409.64 -431.02L1409.64 -412.69L1391.31 -412.69Z" fill="none" stroke="#008000" stroke-width="3.06" stroke-linejoin="round"/>
<path d="M1559.13 -417.42L1565.24 -417.42L1565.24 -411.31L1571.36 -411.31L1571.36 -405.2L1565.24 -405.2L1565.24 -399.08L1559.13 -399.08L1559.13 -405.2L1553.02 -405.2L1553.02 -411.31L1559.13 -411.31Z" fill="none" stroke="#008000" stroke-width="3.06" stroke-linejoin="miter"/>
<path d="M1510.17 -417.42L1516.29 -417.42L1516.29 -411.31L1522.4 -411.31L1522.4 -405.2L1516.29 -405.2L1516.29 -399.08L1510.17 -399.08L1510.17 -405.2L1504.06 -405.2L1504.06 -411.31L1510.17 -411.31Z" fill="none" stroke="#a9a9a9" stroke-width="3.06" stroke-linejoin="miter"/>
<path d="M1464.18 -398.87L1470.29 -398.87L1470.29 -392.76L1476.41 -392.76L1476.41 -386.65L1470.29 -386.65L1470.29 -380.54L1464.18 -380.54L1464.18 -386.65L1458.07 -386.65L1458.07 -392.76L1464.18 -392.76Z" fill="none" stroke="#008000" stroke-width="3.06" stroke-linejoin="miter"/>
<path d="M1427.09 -398.87L1433.2 -398.87L1433.2 -392.76L1439.32 -392.76L1439.32 -386.65L1433.2 -386.65L1433.2 -380.54L1427.09 -380.54L1427.09 -386.65L1420.98 -386.65L1420.98 -392.76L1427.09 -392.76Z" fill="none" stroke="#a9a9a9" stroke-width="3.06" stroke-linejoin="miter"/>
<path d="M1565.07 -369.19L1571.18 -369.19L1571.18 -363.08L1577.29 -363.08L1577.29 -356.97L1571.18 -356.97L1571.18 -350.86L1565.07 -350.86L1565.07 -356.97L1558.96 -356.97L1558.96 -363.08L1565.07 -363.08Z" fill="none" stroke="#008000" stroke-width="3.06" stroke-linejoin="miter"/>
<path d="M1465.67 -369.19L1471.78 -369.19L1471.78 -363.08L1477.89 -363.08L1477.89 -356.97L1471.78 -356.97L1471.78 -350.86L1465.67 -350.86L1465.67 -356.97L1459.55 -356.97L1459.55 -363.08L1465.67 -363.08Z" fill="none" stroke="#a9a9a9" stroke-width="3.06" stroke-linejoin="miter"/>
<path d="M1367.75 -369.19L1373.86 -369.19L1373.86 -363.08L1379.97 -363.08L1379.97 -356.97L1373.86 -356.97L1373.86 -350.86L1367.75 -350.86L1367.75 -356.97L1361.64 -356.97L1361.64 -363.08L1367.75 -363.08Z" fill="none" stroke="#ffa500" stroke-width="3.06" stroke-linejoin="miter"/>
<path d="M1487.92 -382.8L1494.03 -382.8L1494.03 -376.68L1500.14 -376.68L1500.14 -370.57L1494.03 -370.57L1494.03 -364.46L1487.92 -364.46L1487.92 -370.57L1481.81 -370.57L1481.81 -376.68L1487.92 -376.68Z" fill="none" stroke="#008000" stroke-width="3.06" stroke-linejoin="miter"/>
<path d="M1443.41 -382.8L1449.52 -382.8L1449.52 -376.68L1455.64 -376.68L1455.64 -370.57L1449.52 -370.57L1449.52 -364.46L1443.41 -364.46L1443.41 -370.57L1437.3 -370.57L1437.3 -376.68L1443.41 -376.68Z" fill="none" stroke="#a9a9a9" stroke-width="3.06" stroke-linejoin="miter"/>
<path d="M1562.1 -382.8L1568.21 -382.8L1568.21 -376.68L1574.32 -376.68L1574.32 -370.57L1568.21 -370.57L1568.21 -364.46L1562.1 -364.46L1562.1 -370.57L1555.99 -370.57L1555.99 -376.68L1562.1 -376.68Z" fill="none" stroke="#ffa500" stroke-width="3.06" stroke-linejoin="miter"/>
<path d="M1481.99 -356.21L1488.1 -356.21L1488.1 -350.1L1494.21 -350.1L1494.21 -343.99L1488.1 -343.99L1488.1 -337.87L1481.99 -337.87L1481.99 -343.99L1475.87 -343.99L1475.87 -350.1L1481.99 -350.1Z" fill="none" stroke="#008000" stroke-width="3.06" stroke-linejoin="miter"/>
<path d="M1510.17 -356.21L1516.29 -356.21L1516.29 -350.1L1522.4 -350.1L1522.4 -343.99L1516.29 -343.99L1516.29 -337.87L1510.17 -337.87L1510.17 -343.99L1504.06 -343.99L1504.06 -350.1L1510.17 -350.1Z" fill="none" stroke="#a9a9a9" stroke-width="3.06" stroke-linejoin="miter"/>
<path d="M1575.45 -356.21L1581.56 -356.21L1581.56 -350.1L1587.68 -350.1L1587.68 -343.99L1581.56 -343.99L1581.56 -337.87L1575.45 -337.87L1575.45 -343.99L1569.34 -343.99L1569.34 -350.1L1575.45 -350.1Z" fill="none" stroke="#ffa500" stroke-width="3.06" stroke-linejoin="miter"/>
<path d="M1326.03 -291.29L1344.37 -291.29L1344.37 -272.95L1326.03 -272.95Z" fill="none" stroke="#008000" stroke-width="3.06" stroke-linejoin="round"/>
<path d="M1326.03 -291.29L1344.37 -291.29L1344.37 -272.95L1326.03 -272.95Z" fill="none" stroke="#a9a9a9" stroke-width="3.06" stroke-linejoin="round"/>
<path d="M1326.03 -291.29L1344.37 -291.29L1344.37 -272.95L1326.03 -272.95Z" fill="none" stroke="#ffa500" stroke-width="3.06" stroke-linejoin="round"/>
<path d="M1547.26 -276.45L1553.38 -276.45L1553.38 -270.34L1559.49 -270.34L1559.49 -264.23L1553.38 -264.23L1553.38 -258.11L1547.26 -258.11L1547.26 -264.23L1541.15 -264.23L1541.15 -270.34L1547.26 -270.34Z" fill="#008000" stroke="#008000" stroke-width="3.06" stroke-linejoin="miter"/>
<path d="M1470.12 -276.45L1476.23 -276.45L1476.23 -270.34L1482.34 -270.34L1482.34 -264.23L1476.23 -264.23L1476.23 -258.11L1470.12 -258.11L1470.12 -264.23L1464 -264.23L1464 -270.34L1470.12 -270.34Z" fill="#a9a9a9" stroke="#a9a9a9" stroke-width="3.06" stroke-linejoin="miter"/>
<path d="M1547.26 -276.45L1553.38 -276.45L1553.38 -270.34L1559.49 -270.34L1559.49 -264.23L1553.38 -264.23L1553.38 -258.11L1547.26 -258.11L1547.26 -264.23L1541.15 -264.23L1541.15 -270.34L1547.26 -270.34Z" fill="#ffa500" stroke="#ffa500" stroke-width="3.06" stroke-linejoin="miter"/>
<path d="M1607.91 -214.62L1626.25 -214.62L1626.25 -196.29L1607.91 -196.29Z" fill="none" stroke="#008000" stroke-width="3.06" stroke-linejoin="round"/>
<path d="M1358.67 -214.62L1377.01 -214.62L1377.01 -196.29L1358.67 -196.29Z" fill="none" stroke="#a9a9a9" stroke-width="3.06" stroke-linejoin="round"/>
<path d="M1357.19 -214.62L1375.52 -214.62L1375.52 -196.29L1357.19 -196.29Z" fill="none" stroke="#ffa500" stroke-width="3.06" stroke-linejoin="round"/>
<path d="M1432.85 -208.44L1451.19 -208.44L1451.19 -190.1L1432.85 -190.1Z" fill="#a9a9a9" stroke="#a9a9a9" stroke-width="3.06" stroke-linejoin="round"/>
<path d="M1407.63 -186.18L1425.96 -186.18L1425.96 -167.85L1407.63 -167.85Z" fill="#ffa500" stroke="#ffa500" stroke-width="3.06" stroke-linejoin="round"/>
<path d="M1466.97 -168.87L1485.31 -168.87L1485.31 -150.53L1466.97 -150.53Z" fill="#ffa500" stroke="#ffa500" stroke-width="3.06" stroke-linejoin="round"/>
<path d="M1541.15 -192.36L1559.49 -192.36L1559.49 -174.03L1541.15 -174.03Z" fill="none" stroke="#008000" stroke-width="3.06" stroke-linejoin="round"/>
<path d="M1333.45 -192.36L1351.78 -192.36L1351.78 -174.03L1333.45 -174.03Z" fill="none" stroke="#a9a9a9" stroke-width="3.06" stroke-linejoin="round"/>
<path d="M1392.79 -192.36L1411.13 -192.36L1411.13 -174.03L1392.79 -174.03Z" fill="none" stroke="#ffa500" stroke-width="3.06" stroke-linejoin="round"/>
<path d="M1542.81 -182.47L1548.93 -182.47L1548.93 -176.36L1555.04 -176.36L1555.04 -170.25L1548.93 -170.25L1548.93 -164.14L1542.81 -164.14L1542.81 -170.25L1536.7 -170.25L1536.7 -176.36L1542.81 -176.36Z" fill="none" stroke="#008000" stroke-width="3.06" stroke-linejoin="miter"/>
<path d="M1349.2 -182.47L1355.32 -182.47L1355.32 -176.36L1361.43 -176.36L1361.43 -170.25L1355.32 -170.25L1355.32 -164.14L1349.2 -164.14L1349.2 -170.25L1343.09 -170.25L1343.09 -176.36L1349.2 -176.36Z" fill="none" stroke="#a9a9a9" stroke-width="3.06" stroke-linejoin="miter"/>
<path d="M2351.38 -173.82L2357.49 -173.82L2357.49 -167.7L2363.6 -167.7L2363.6 -161.59L2357.49 -161.59L2357.49 -155.48L2351.38 -155.48L2351.38 -161.59L2345.26 -161.59L2345.26 -167.7L2351.38 -167.7Z" fill="none" stroke="#008000" stroke-width="3.06" stroke-linejoin="miter"/>
<path d="M1339.56 -173.82L1345.67 -173.82L1345.67 -167.7L1351.78 -167.7L1351.78 -161.59L1345.67 -161.59L1345.67 -155.48L1339.56 -155.48L1339.56 -161.59L1333.45 -161.59L1333.45 -167.7L1339.56 -167.7Z" fill="none" stroke="#a9a9a9" stroke-width="3.06" stroke-linejoin="miter"/>
<path d="M1384.07 -173.82L1390.18 -173.82L1390.18 -167.7L1396.29 -167.7L1396.29 -161.59L1390.18 -161.59L1390.18 -155.48L1384.07 -155.48L1384.07 -161.59L1377.96 -161.59L1377.96 -167.7L1384.07 -167.7Z" fill="none" stroke="#ffa500" stroke-width="3.06" stroke-linejoin="miter"/>
<path d="M1618.3 -155.27L1636.64 -155.27L1636.64 -136.93L1618.3 -136.93Z" fill="none" stroke="#008000" stroke-width="3.06" stroke-linejoin="round"/>
<path d="M1357.19 -155.27L1375.52 -155.27L1375.52 -136.93L1357.19 -136.93Z" fill="none" stroke="#a9a9a9" stroke-width="3.06" stroke-linejoin="round"/>
<path d="M1363.86 -155.27L1382.2 -155.27L1382.2 -136.93L1363.86 -136.93Z" fill="none" stroke="#ffa500" stroke-width="3.06" stroke-linejoin="round"/>
<path d="M1551.71 -99.62L1557.83 -99.62L1557.83 -93.51L1563.94 -93.51L1563.94 -87.4L1557.83 -87.4L1557.83 -81.29L1551.71 -81.29L1551.71 -87.4L1545.6 -87.4L1545.6 -93.51L1551.71 -93.51Z" fill="none" stroke="#008000" stroke-width="3.06" stroke-linejoin="miter"/>
<path d="M1474.57 -99.62L1480.68 -99.62L1480.68 -93.51L1486.79 -93.51L1486.79 -87.4L1480.68 -87.4L1480.68 -81.29L1474.57 -81.29L1474.57 -87.4L1468.46 -87.4L1468.46 -93.51L1474.57 -93.51Z" fill="none" stroke="#ffa500" stroke-width="3.06" stroke-linejoin="miter"/>
<path d="M1660.02 -52.63L1666.13 -52.63L1666.13 -46.52L1672.24 -46.52L1672.24 -40.41L1666.13 -40.41L1666.13 -34.3L1660.02 -34.3L1660.02 -40.41L1653.91 -40.41L1653.91 -46.52L1660.02 -46.52Z" fill="none" stroke="#008000" stroke-width="3.06" stroke-linejoin="miter"/>
<path d="M1686.72 -52.63L1692.83 -52.63L1692.83 -46.52L1698.95 -46.52L1698.95 -40.41L1692.83 -40.41L1692.83 -34.3L1686.72 -34.3L1686.72 -40.41L1680.61 -40.41L1680.61 -46.52L1686.72 -46.52Z" fill="none" stroke="#a9a9a9" stroke-width="3.06" stroke-linejoin="miter"/>
<path d="M1520.56 -52.63L1526.67 -52.63L1526.67 -46.52L1532.78 -46.52L1532.78 -40.41L1526.67 -40.41L1526.67 -34.3L1520.56 -34.3L1520.56 -40.41L1514.45 -40.41L1514.45 -46.52L1520.56 -46.52Z" fill="none" stroke="#ffa500" stroke-width="3.06" stroke-linejoin="miter"/>
<circle cx="2783.19" cy="26.4" r="9.17" fill="none" stroke="#008000" stroke-width="3.06"/>
<circle cx="2195.69" cy="26.4" r="9.17" fill="none" stroke="#a9a9a9" stroke-width="3.06"/>
<circle cx="2513.18" cy="26.4" r="9.17" fill="none" stroke="#ffa500" stroke-width="3.06"/>
<path d="M1484.78 97.51L1503.11 88.34L1503.11 106.67Z" fill="none" stroke="#008000" stroke-width="3.06" stroke-linejoin="round"/>
<path d="M1286.71 97.51L1305.05 88.34L1305.05 106.67Z" fill="none" stroke="#ffa500" stroke-width="3.06" stroke-linejoin="round"/>
<path d="M1564.89 88.34L1583.23 88.34L1583.23 106.67L1564.89 106.67Z" fill="none" stroke="#008000" stroke-width="3.06" stroke-linejoin="round"/>
<path d="M1426.91 88.34L1445.25 88.34L1445.25 106.67L1426.91 106.67Z" fill="none" stroke="#a9a9a9" stroke-width="3.06" stroke-linejoin="round"/>
<path d="M1357.19 88.34L1375.52 88.34L1375.52 106.67L1357.19 106.67Z" fill="none" stroke="#ffa500" stroke-width="3.06" stroke-linejoin="round"/>
<path d="M3011.67 90.81L3002.5 109.15L3020.83 109.15Z" fill="none" stroke="#008000" stroke-width="3.06" stroke-linejoin="round"/>
<path d="M1823.3 90.81L1814.13 109.15L1832.47 109.15Z" fill="none" stroke="#ffa500" stroke-width="3.06" stroke-linejoin="round"/>
<circle cx="3811.33" cy="122.24" r="9.17" fill="none" stroke="#008000" stroke-width="3.06"/>
<circle cx="2155.63" cy="122.24" r="9.17" fill="none" stroke="#a9a9a9" stroke-width="3.06"/>
<circle cx="2318.82" cy="122.24" r="9.17" fill="none" stroke="#ffa500" stroke-width="3.06"/>
<circle cx="2927.1" cy="144.5" r="9.17" fill="none" stroke="#008000" stroke-width="3.06"/>
<circle cx="2382.62" cy="144.5" r="9.17" fill="none" stroke="#a9a9a9" stroke-width="3.06"/>
<circle cx="2167.5" cy="144.5" r="9.17" fill="none" stroke="#ffa500" stroke-width="3.06"/>
<circle cx="3363.28" cy="212.51" r="9.17" fill="none" stroke="#008000" stroke-width="3.06"/>
<circle cx="2164.53" cy="212.51" r="9.17" fill="none" stroke="#a9a9a9" stroke-width="3.06"/>
<circle cx="2217.94" cy="212.51" r="9.17" fill="none" stroke="#ffa500" stroke-width="3.06"/>
<path d="M1822.47 246.25L1828.58 246.25L1828.58 252.36L1834.7 252.36L1834.7 258.47L1828.58 258.47L1828.58 264.58L1822.47 264.58L1822.47 258.47L1816.36 258.47L1816.36 252.36L1822.47 252.36Z" fill="none" stroke="#008000" stroke-width="3.06" stroke-linejoin="miter"/>
<path d="M1652.9 246.25L1659.01 246.25L1659.01 252.36L1665.12 252.36L1665.12 258.47L1659.01 258.47L1659.01 264.58L1652.9 264.58L1652.9 258.47L1646.78 258.47L1646.78 252.36L1652.9 252.36Z" fill="none" stroke="#a9a9a9" stroke-width="3.06" stroke-linejoin="miter"/>
<path d="M1545.48 246.25L1551.6 246.25L1551.6 252.36L1557.71 252.36L1557.71 258.47L1551.6 258.47L1551.6 264.58L1545.48 264.58L1545.48 258.47L1539.37 258.47L1539.37 252.36L1545.48 252.36Z" fill="none" stroke="#ffa500" stroke-width="3.06" stroke-linejoin="miter"/>
<path d="M1717.08 253.17L1707.91 271.51L1726.24 271.51Z" fill="none" stroke="#008000" stroke-width="3.06" stroke-linejoin="round"/>
<path d="M1442.02 253.17L1432.85 271.51L1451.19 271.51Z" fill="none" stroke="#ffa500" stroke-width="3.06" stroke-linejoin="round"/>
<path d="M1514.74 277.92L1533.08 268.75L1533.08 287.09Z" fill="none" stroke="#008000" stroke-width="3.06" stroke-linejoin="round"/>
<path d="M1306.89 277.92L1325.23 268.75L1325.23 287.09Z" fill="none" stroke="#ffa500" stroke-width="3.06" stroke-linejoin="round"/>
<path d="M1450.5 288.79L1468.84 288.79L1468.84 307.12L1450.5 307.12Z" fill="none" stroke="#008000" stroke-width="3.06" stroke-linejoin="round"/>
<path d="M1386.71 288.79L1405.05 288.79L1405.05 307.12L1386.71 307.12Z" fill="none" stroke="#a9a9a9" stroke-width="3.06" stroke-linejoin="round"/>
<path d="M1374.4 288.79L1392.73 288.79L1392.73 307.12L1374.4 307.12Z" fill="none" stroke="#ffa500" stroke-width="3.06" stroke-linejoin="round"/>
<path d="M1915.88 282.48L1906.71 300.82L1925.05 300.82Z" fill="none" stroke="#008000" stroke-width="3.06" stroke-linejoin="round"/>
<path d="M1595.87 282.48L1586.7 300.82L1605.03 300.82Z" fill="none" stroke="#ffa500" stroke-width="3.06" stroke-linejoin="round"/>
<circle cx="2508.73" cy="294.49" r="9.17" fill="none" stroke="#008000" stroke-width="3.06"/>
<circle cx="2228.33" cy="294.49" r="9.17" fill="none" stroke="#a9a9a9" stroke-width="3.06"/>
<circle cx="2234.26" cy="294.49" r="9.17" fill="none" stroke="#ffa500" stroke-width="3.06"/>
<path d="M1960.54 323.04L1951.37 341.37L1969.7 341.37Z" fill="none" stroke="#008000" stroke-width="3.06" stroke-linejoin="round"/>
<path d="M1728.35 323.04L1719.18 341.37L1737.52 341.37Z" fill="none" stroke="#ffa500" stroke-width="3.06" stroke-linejoin="round"/>
<path d="M2492.67 341.11L2474.34 331.94L2474.34 350.28Z" fill="none" stroke="#008000" stroke-width="3.06" stroke-linejoin="round"/>
<path d="M1410.39 341.11L1392.05 331.94L1392.05 350.28Z" fill="none" stroke="#ffa500" stroke-width="3.06" stroke-linejoin="round"/>
<circle cx="2668.95" cy="357.19" r="9.17" fill="none" stroke="#008000" stroke-width="3.06"/>
<circle cx="2118.54" cy="357.19" r="9.17" fill="none" stroke="#a9a9a9" stroke-width="3.06"/>
<circle cx="2209.04" cy="357.19" r="9.17" fill="none" stroke="#ffa500" stroke-width="3.06"/>
<path d="M1693.7 390.31L1699.81 390.31L1699.81 396.42L1705.92 396.42L1705.92 402.53L1699.81 402.53L1699.81 408.64L1693.7 408.64L1693.7 402.53L1687.58 402.53L1687.58 396.42L1693.7 396.42Z" fill="none" stroke="#008000" stroke-width="3.06" stroke-linejoin="miter"/>
<path d="M1595.04 390.31L1601.15 390.31L1601.15 396.42L1607.26 396.42L1607.26 402.53L1601.15 402.53L1601.15 408.64L1595.04 408.64L1595.04 402.53L1588.92 402.53L1588.92 396.42L1595.04 396.42Z" fill="none" stroke="#a9a9a9" stroke-width="3.06" stroke-linejoin="miter"/>
<path d="M1543.7 390.31L1549.82 390.31L1549.82 396.42L1555.93 396.42L1555.93 402.53L1549.82 402.53L1549.82 408.64L1543.7 408.64L1543.7 402.53L1537.59 402.53L1537.59 396.42L1543.7 396.42Z" fill="none" stroke="#ffa500" stroke-width="3.06" stroke-linejoin="miter"/>
<circle cx="2777.26" cy="408.5" r="9.17" fill="none" stroke="#008000" stroke-width="3.06"/>
<circle cx="1986.5" cy="408.5" r="9.17" fill="none" stroke="#a9a9a9" stroke-width="3.06"/>
<circle cx="2234.26" cy="408.5" r="9.17" fill="none" stroke="#ffa500" stroke-width="3.06"/>
<path d="M2384.1 404.9L2374.94 423.24L2393.27 423.24Z" fill="none" stroke="#008000" stroke-width="3.06" stroke-linejoin="round"/>
<path d="M1519.91 404.9L1510.74 423.24L1529.07 423.24Z" fill="none" stroke="#ffa500" stroke-width="3.06" stroke-linejoin="round"/>
<path d="M1520.02 429.28L1501.69 420.11L1501.69 438.45Z" fill="none" stroke="#008000" stroke-width="3.06" stroke-linejoin="round"/>
<path d="M1454.15 429.28L1435.82 420.11L1435.82 438.45Z" fill="none" stroke="#a9a9a9" stroke-width="3.06" stroke-linejoin="round"/>
<path d="M1340.21 429.28L1321.88 420.11L1321.88 438.45Z" fill="none" stroke="#ffa500" stroke-width="3.06" stroke-linejoin="round"/>
<path d="M1910.54 460.3L1901.37 478.63L1919.71 478.63Z" fill="none" stroke="#008000" stroke-width="3.06" stroke-linejoin="round"/>
<path d="M1619.46 460.3L1610.29 478.63L1628.62 478.63Z" fill="none" stroke="#ffa500" stroke-width="3.06" stroke-linejoin="round"/>
<path d="M1769 469.2L1759.83 487.54L1778.17 487.54Z" fill="none" stroke="#008000" stroke-width="3.06" stroke-linejoin="round"/>
<path d="M1555.96 469.2L1546.79 487.54L1565.13 487.54Z" fill="none" stroke="#ffa500" stroke-width="3.06" stroke-linejoin="round"/>
<circle cx="2495.37" cy="477.75" r="9.17" fill="none" stroke="#008000" stroke-width="3.06"/>
<circle cx="1985.01" cy="477.75" r="9.17" fill="none" stroke="#a9a9a9" stroke-width="3.06"/>
<circle cx="2106.67" cy="477.75" r="9.17" fill="none" stroke="#ffa500" stroke-width="3.06"/>
<path d="M1533.56 492.33L1524.39 510.66L1542.72 510.66Z" fill="none" stroke="#008000" stroke-width="3.06" stroke-linejoin="round"/>
<path d="M1558.78 492.33L1549.61 510.66L1567.94 510.66Z" fill="none" stroke="#ffa500" stroke-width="3.06" stroke-linejoin="round"/>
<path d="M1822.86 495.66L1813.69 514L1832.03 514Z" fill="none" stroke="#008000" stroke-width="3.06" stroke-linejoin="round"/>
<path d="M1391.43 495.66L1382.26 514L1400.59 514Z" fill="none" stroke="#a9a9a9" stroke-width="3.06" stroke-linejoin="round"/>
<path d="M1572.57 495.66L1563.41 514L1581.74 514Z" fill="none" stroke="#ffa500" stroke-width="3.06" stroke-linejoin="round"/>
<path d="M1574.95 505.93L1565.78 524.26L1584.12 524.26Z" fill="#008000" stroke="#008000" stroke-width="3.06" stroke-linejoin="round"/>
<path d="M1429.26 505.93L1420.09 524.26L1438.43 524.26Z" fill="#ffa500" stroke="#ffa500" stroke-width="3.06" stroke-linejoin="round"/>
<circle cx="1773.6" cy="535.5" r="9.17" fill="none" stroke="#008000" stroke-width="3.06"/>
<circle cx="1423.18" cy="535.5" r="9.17" fill="none" stroke="#a9a9a9" stroke-width="3.06"/>
<circle cx="1529.25" cy="535.5" r="9.17" fill="none" stroke="#ffa500" stroke-width="3.06"/>
<path d="M1389.79 550.07L1380.63 568.41L1398.96 568.41Z" fill="#008000" stroke="#008000" stroke-width="3.06" stroke-linejoin="round"/>
<path d="M1434.6 550.07L1425.43 568.41L1443.77 568.41Z" fill="#ffa500" stroke="#ffa500" stroke-width="3.06" stroke-linejoin="round"/>
<path d="M1862.97 554.15L1869.09 554.15L1869.09 560.27L1875.2 560.27L1875.2 566.38L1869.09 566.38L1869.09 572.49L1862.97 572.49L1862.97 566.38L1856.86 566.38L1856.86 560.27L1862.97 560.27Z" fill="none" stroke="#008000" stroke-width="3.06" stroke-linejoin="miter"/>
<path d="M1331.4 554.15L1337.51 554.15L1337.51 560.27L1343.62 560.27L1343.62 566.38L1337.51 566.38L1337.51 572.49L1331.4 572.49L1331.4 566.38L1325.29 566.38L1325.29 560.27L1331.4 560.27Z" fill="none" stroke="#a9a9a9" stroke-width="3.06" stroke-linejoin="miter"/>
<path d="M1295.5 554.15L1301.61 554.15L1301.61 560.27L1307.72 560.27L1307.72 566.38L1301.61 566.38L1301.61 572.49L1295.5 572.49L1295.5 566.38L1289.39 566.38L1289.39 560.27L1295.5 560.27Z" fill="none" stroke="#ffa500" stroke-width="3.06" stroke-linejoin="miter"/>
<circle cx="2185.3" cy="561.84" r="9.17" fill="none" stroke="#008000" stroke-width="3.06"/>
<circle cx="1491.42" cy="561.84" r="9.17" fill="none" stroke="#a9a9a9" stroke-width="3.06"/>
<circle cx="1515.46" cy="590.53" r="9.17" fill="none" stroke="#008000" stroke-width="3.06"/>
<circle cx="1408.34" cy="590.53" r="9.17" fill="none" stroke="#a9a9a9" stroke-width="3.06"/>
<circle cx="1495.43" cy="590.53" r="9.17" fill="none" stroke="#ffa500" stroke-width="3.06"/>
<circle cx="1452.25" cy="593.62" r="9.17" fill="none" stroke="#008000" stroke-width="3.06"/>
<circle cx="1322.59" cy="593.62" r="9.17" fill="none" stroke="#a9a9a9" stroke-width="3.06"/>
<circle cx="1391.57" cy="593.62" r="9.17" fill="none" stroke="#ffa500" stroke-width="3.06"/>
<path d="M1636.73 585.07L1642.84 585.07L1642.84 591.18L1648.95 591.18L1648.95 597.29L1642.84 597.29L1642.84 603.4L1636.73 603.4L1636.73 597.29L1630.61 597.29L1630.61 591.18L1636.73 591.18Z" fill="none" stroke="#008000" stroke-width="3.06" stroke-linejoin="miter"/>
<path d="M1253.51 585.07L1259.62 585.07L1259.62 591.18L1265.74 591.18L1265.74 597.29L1259.62 597.29L1259.62 603.4L1253.51 603.4L1253.51 597.29L1247.4 597.29L1247.4 591.18L1253.51 591.18Z" fill="none" stroke="#a9a9a9" stroke-width="3.06" stroke-linejoin="miter"/>
<path d="M1288.38 585.07L1294.49 585.07L1294.49 591.18L1300.6 591.18L1300.6 597.29L1294.49 597.29L1294.49 603.4L1288.38 603.4L1288.38 597.29L1282.26 597.29L1282.26 591.18L1288.38 591.18Z" fill="none" stroke="#ffa500" stroke-width="3.06" stroke-linejoin="miter"/>
<path d="M1711.29 585.44L1702.12 603.78L1720.46 603.78Z" fill="#008000" stroke="#008000" stroke-width="3.06" stroke-linejoin="round"/>
<path d="M1442.02 585.44L1432.85 603.78L1451.19 603.78Z" fill="#ffa500" stroke="#ffa500" stroke-width="3.06" stroke-linejoin="round"/>
<path d="M1488.75 583.58L1479.58 601.92L1497.92 601.92Z" fill="none" stroke="#008000" stroke-width="3.06" stroke-linejoin="round"/>
<path d="M1469.02 583.58L1459.85 601.92L1478.19 601.92Z" fill="none" stroke="#ffa500" stroke-width="3.06" stroke-linejoin="round"/>
<circle cx="1486.38" cy="606.85" r="9.17" fill="none" stroke="#008000" stroke-width="3.06"/>
<circle cx="1338.17" cy="606.85" r="9.17" fill="none" stroke="#a9a9a9" stroke-width="3.06"/>
<circle cx="1356.86" cy="606.85" r="9.17" fill="none" stroke="#ffa500" stroke-width="3.06"/>
<path d="M1554.18 600.28L1545.01 618.61L1563.35 618.61Z" fill="none" stroke="#008000" stroke-width="3.06" stroke-linejoin="round"/>
<path d="M1449.14 600.28L1439.97 618.61L1458.31 618.61Z" fill="none" stroke="#a9a9a9" stroke-width="3.06" stroke-linejoin="round"/>
<path d="M1510.26 600.28L1501.09 618.61L1519.43 618.61Z" fill="none" stroke="#ffa500" stroke-width="3.06" stroke-linejoin="round"/>
<path d="M1609.22 615.12L1600.05 633.45L1618.39 633.45Z" fill="none" stroke="#008000" stroke-width="3.06" stroke-linejoin="round"/>
<path d="M1558.78 615.12L1549.61 633.45L1567.94 633.45Z" fill="none" stroke="#ffa500" stroke-width="3.06" stroke-linejoin="round"/>
<circle cx="2452.35" cy="630.96" r="9.17" fill="none" stroke="#008000" stroke-width="3.06"/>
<circle cx="1717.82" cy="630.96" r="9.17" fill="none" stroke="#a9a9a9" stroke-width="3.06"/>
<circle cx="2016.17" cy="630.96" r="9.17" fill="none" stroke="#ffa500" stroke-width="3.06"/>
<path d="M1390.98 636.63L1381.81 654.97L1400.15 654.97Z" fill="none" stroke="#008000" stroke-width="3.06" stroke-linejoin="round"/>
<path d="M1307.01 636.63L1297.84 654.97L1316.18 654.97Z" fill="none" stroke="#a9a9a9" stroke-width="3.06" stroke-linejoin="round"/>
<path d="M1400.62 636.63L1391.46 654.97L1409.79 654.97Z" fill="none" stroke="#ffa500" stroke-width="3.06" stroke-linejoin="round"/>
<path d="M1501.72 649.49L1507.83 649.49L1507.83 655.61L1513.94 655.61L1513.94 661.72L1507.83 661.72L1507.83 667.83L1501.72 667.83L1501.72 661.72L1495.61 661.72L1495.61 655.61L1501.72 655.61Z" fill="none" stroke="#008000" stroke-width="3.06" stroke-linejoin="miter"/>
<path d="M1265.53 649.49L1271.64 649.49L1271.64 655.61L1277.75 655.61L1277.75 661.72L1271.64 661.72L1271.64 667.83L1265.53 667.83L1265.53 661.72L1259.42 661.72L1259.42 655.61L1265.53 655.61Z" fill="none" stroke="#a9a9a9" stroke-width="3.06" stroke-linejoin="miter"/>
<path d="M1286 649.49L1292.11 649.49L1292.11 655.61L1298.23 655.61L1298.23 661.72L1292.11 661.72L1292.11 667.83L1286 667.83L1286 661.72L1279.89 661.72L1279.89 655.61L1286 655.61Z" fill="none" stroke="#ffa500" stroke-width="3.06" stroke-linejoin="miter"/>
<path d="M1513.73 650.73L1519.85 650.73L1519.85 656.84L1525.96 656.84L1525.96 662.95L1519.85 662.95L1519.85 669.07L1513.73 669.07L1513.73 662.95L1507.62 662.95L1507.62 656.84L1513.73 656.84Z" fill="none" stroke="#008000" stroke-width="3.06" stroke-linejoin="miter"/>
<path d="M1299.21 650.73L1305.32 650.73L1305.32 656.84L1311.43 656.84L1311.43 662.95L1305.32 662.95L1305.32 669.07L1299.21 669.07L1299.21 662.95L1293.09 662.95L1293.09 656.84L1299.21 656.84Z" fill="none" stroke="#a9a9a9" stroke-width="3.06" stroke-linejoin="miter"/>
<path d="M1308.7 650.73L1314.81 650.73L1314.81 656.84L1320.93 656.84L1320.93 662.95L1314.81 662.95L1314.81 669.07L1308.7 669.07L1308.7 662.95L1302.59 662.95L1302.59 656.84L1308.7 656.84Z" fill="none" stroke="#ffa500" stroke-width="3.06" stroke-linejoin="miter"/>
<path d="M1682.95 652.21L1673.79 670.55L1692.12 670.55Z" fill="#008000" stroke="#008000" stroke-width="3.06" stroke-linejoin="round"/>
<path d="M1467.83 652.21L1458.66 670.55L1477 670.55Z" fill="#a9a9a9" stroke="#a9a9a9" stroke-width="3.06" stroke-linejoin="round"/>
<path d="M1482.82 652.21L1473.65 670.55L1491.98 670.55Z" fill="#ffa500" stroke="#ffa500" stroke-width="3.06" stroke-linejoin="round"/>
<path d="M2154.15 681.93L2144.98 663.59L2163.31 663.59Z" fill="none" stroke="#008000" stroke-width="3.06" stroke-linejoin="round"/>
<path d="M1452.25 681.93L1443.09 663.59L1461.42 663.59Z" fill="none" stroke="#a9a9a9" stroke-width="3.06" stroke-linejoin="round"/>
<path d="M1427.03 681.93L1417.86 663.59L1436.2 663.59Z" fill="none" stroke="#ffa500" stroke-width="3.06" stroke-linejoin="round"/>
<path d="M1708.44 685.5L1690.11 676.33L1690.11 694.66Z" fill="none" stroke="#008000" stroke-width="3.06" stroke-linejoin="round"/>
<path d="M1277.75 685.5L1259.42 676.33L1259.42 694.66Z" fill="none" stroke="#a9a9a9" stroke-width="3.06" stroke-linejoin="round"/>
<path d="M1299.41 685.5L1281.08 676.33L1281.08 694.66Z" fill="none" stroke="#ffa500" stroke-width="3.06" stroke-linejoin="round"/>
<circle cx="3122.94" cy="684.88" r="9.17" fill="none" stroke="#008000" stroke-width="3.06"/>
<circle cx="1858.17" cy="684.88" r="9.17" fill="none" stroke="#a9a9a9" stroke-width="3.06"/>
<circle cx="2074.03" cy="684.88" r="9.17" fill="none" stroke="#ffa500" stroke-width="3.06"/>
<circle cx="1809.95" cy="691.93" r="9.17" fill="#008000" stroke="#008000" stroke-width="3.06"/>
<circle cx="1348.4" cy="691.93" r="9.17" fill="#a9a9a9" stroke="#a9a9a9" stroke-width="3.06"/>
<circle cx="1709.96" cy="691.93" r="9.17" fill="#ffa500" stroke="#ffa500" stroke-width="3.06"/>
<path d="M1416.2 680.04L1407.03 698.37L1425.37 698.37Z" fill="none" stroke="#008000" stroke-width="3.06" stroke-linejoin="round"/>
<path d="M1393.36 680.04L1384.19 698.37L1402.52 698.37Z" fill="none" stroke="#ffa500" stroke-width="3.06" stroke-linejoin="round"/>
<path d="M1527.62 676.08L1518.45 694.42L1536.79 694.42Z" fill="none" stroke="#008000" stroke-width="3.06" stroke-linejoin="round"/>
<path d="M1434.15 676.08L1424.99 694.42L1443.32 694.42Z" fill="none" stroke="#ffa500" stroke-width="3.06" stroke-linejoin="round"/>
<path d="M1604.03 702.54L1594.86 720.88L1613.19 720.88Z" fill="none" stroke="#008000" stroke-width="3.06" stroke-linejoin="round"/>
<path d="M1410.86 702.54L1401.69 720.88L1420.03 720.88Z" fill="none" stroke="#a9a9a9" stroke-width="3.06" stroke-linejoin="round"/>
<path d="M1389.79 702.54L1380.63 720.88L1398.96 720.88Z" fill="none" stroke="#ffa500" stroke-width="3.06" stroke-linejoin="round"/>
<circle cx="1755.65" cy="729.52" r="9.17" fill="#008000" stroke="#008000" stroke-width="3.06"/>
<circle cx="1344.1" cy="729.52" r="9.17" fill="#a9a9a9" stroke="#a9a9a9" stroke-width="3.06"/>
<circle cx="1326.15" cy="729.52" r="9.17" fill="#ffa500" stroke="#ffa500" stroke-width="3.06"/>
<circle cx="1458.19" cy="728.28" r="9.17" fill="none" stroke="#008000" stroke-width="3.06"/>
<circle cx="1350.18" cy="728.28" r="9.17" fill="none" stroke="#a9a9a9" stroke-width="3.06"/>
<circle cx="1375.4" cy="728.28" r="9.17" fill="none" stroke="#ffa500" stroke-width="3.06"/>
<path d="M1552.25 731.11L1543.08 749.44L1561.42 749.44Z" fill="#008000" stroke="#008000" stroke-width="3.06" stroke-linejoin="round"/>
<path d="M1498.39 731.11L1489.23 749.44L1507.56 749.44Z" fill="#ffa500" stroke="#ffa500" stroke-width="3.06" stroke-linejoin="round"/>
<circle cx="1418.58" cy="751.65" r="9.17" fill="none" stroke="#008000" stroke-width="3.06"/>
<circle cx="1313.54" cy="751.65" r="9.17" fill="none" stroke="#a9a9a9" stroke-width="3.06"/>
<circle cx="1342.32" cy="751.65" r="9.17" fill="none" stroke="#ffa500" stroke-width="3.06"/>
<path d="M1440.83 745.58L1431.66 763.91L1450 763.91Z" fill="none" stroke="#008000" stroke-width="3.06" stroke-linejoin="round"/>
<path d="M1642.75 745.58L1633.58 763.91L1651.92 763.91Z" fill="none" stroke="#a9a9a9" stroke-width="3.06" stroke-linejoin="round"/>
<path d="M1405.37 745.58L1396.2 763.91L1414.54 763.91Z" fill="none" stroke="#ffa500" stroke-width="3.06" stroke-linejoin="round"/>
<circle cx="1490.98" cy="760.18" r="9.17" fill="none" stroke="#008000" stroke-width="3.06"/>
<circle cx="1342.91" cy="760.18" r="9.17" fill="none" stroke="#ffa500" stroke-width="3.06"/>
<circle cx="1490.98" cy="766.74" r="9.17" fill="none" stroke="#008000" stroke-width="3.06"/>
<circle cx="1362.2" cy="766.74" r="9.17" fill="none" stroke="#a9a9a9" stroke-width="3.06"/>
<circle cx="1463.53" cy="766.74" r="9.17" fill="none" stroke="#ffa500" stroke-width="3.06"/>
<circle cx="1536.08" cy="773.66" r="9.17" fill="none" stroke="#008000" stroke-width="3.06"/>
<circle cx="1369.32" cy="773.66" r="9.17" fill="none" stroke="#a9a9a9" stroke-width="3.06"/>
<circle cx="1486.97" cy="773.66" r="9.17" fill="none" stroke="#ffa500" stroke-width="3.06"/>
<circle cx="1506.85" cy="780.59" r="9.17" fill="#008000" stroke="#008000" stroke-width="3.06"/>
<circle cx="1345.43" cy="780.59" r="9.17" fill="#a9a9a9" stroke="#a9a9a9" stroke-width="3.06"/>
<circle cx="1295.59" cy="780.59" r="9.17" fill="#ffa500" stroke="#ffa500" stroke-width="3.06"/>
<path d="M1557 782.92L1547.83 801.26L1566.16 801.26Z" fill="none" stroke="#008000" stroke-width="3.06" stroke-linejoin="round"/>
<path d="M1498.39 782.92L1489.23 801.26L1507.56 801.26Z" fill="none" stroke="#a9a9a9" stroke-width="3.06" stroke-linejoin="round"/>
<path d="M1453.89 782.92L1444.72 801.26L1463.05 801.26Z" fill="none" stroke="#ffa500" stroke-width="3.06" stroke-linejoin="round"/>
<path d="M1427.18 806.79L1418.01 825.12L1436.35 825.12Z" fill="#008000" stroke="#008000" stroke-width="3.06" stroke-linejoin="round"/>
<path d="M1349.59 806.79L1340.42 825.12L1358.76 825.12Z" fill="#a9a9a9" stroke="#a9a9a9" stroke-width="3.06" stroke-linejoin="round"/>
<path d="M1430.59 806.79L1421.43 825.12L1439.76 825.12Z" fill="#ffa500" stroke="#ffa500" stroke-width="3.06" stroke-linejoin="round"/>
<path d="M1578.06 810.99L1568.9 829.33L1587.23 829.33Z" fill="#008000" stroke="#008000" stroke-width="3.06" stroke-linejoin="round"/>
<path d="M1423.32 810.99L1414.16 829.33L1432.49 829.33Z" fill="#ffa500" stroke="#ffa500" stroke-width="3.06" stroke-linejoin="round"/>
<path d="M1366.35 831.3L1357.19 812.97L1375.52 812.97Z" fill="none" stroke="#008000" stroke-width="3.06" stroke-linejoin="round"/>
<path d="M1361.9 831.3L1352.73 812.97L1371.07 812.97Z" fill="none" stroke="#a9a9a9" stroke-width="3.06" stroke-linejoin="round"/>
<path d="M1329.86 831.3L1320.69 812.97L1339.03 812.97Z" fill="none" stroke="#ffa500" stroke-width="3.06" stroke-linejoin="round"/>
<path d="M1478.66 817.91L1469.49 836.25L1487.83 836.25Z" fill="#008000" stroke="#008000" stroke-width="3.06" stroke-linejoin="round"/>
<path d="M1406.56 817.91L1397.39 836.25L1415.73 836.25Z" fill="#a9a9a9" stroke="#a9a9a9" stroke-width="3.06" stroke-linejoin="round"/>
<path d="M1475.55 817.91L1466.38 836.25L1484.71 836.25Z" fill="#ffa500" stroke="#ffa500" stroke-width="3.06" stroke-linejoin="round"/>
<path d="M1298.11 855.17L1288.94 836.83L1307.28 836.83Z" fill="#008000" stroke="#008000" stroke-width="3.06" stroke-linejoin="round"/>
<path d="M1294.99 855.17L1285.82 836.83L1304.16 836.83Z" fill="#a9a9a9" stroke="#a9a9a9" stroke-width="3.06" stroke-linejoin="round"/>
<path d="M1316.06 855.17L1306.89 836.83L1325.23 836.83Z" fill="#ffa500" stroke="#ffa500" stroke-width="3.06" stroke-linejoin="round"/>
<path d="M1416.2 840.42L1407.03 858.76L1425.37 858.76Z" fill="#008000" stroke="#008000" stroke-width="3.06" stroke-linejoin="round"/>
<path d="M1381.93 840.42L1372.76 858.76L1391.1 858.76Z" fill="#a9a9a9" stroke="#a9a9a9" stroke-width="3.06" stroke-linejoin="round"/>
<path d="M1354.19 840.42L1345.02 858.76L1363.36 858.76Z" fill="#ffa500" stroke="#ffa500" stroke-width="3.06" stroke-linejoin="round"/>
<path d="M1772.77 881.85L1778.88 881.85L1778.88 887.96L1785 887.96L1785 894.07L1778.88 894.07L1778.88 900.18L1772.77 900.18L1772.77 894.07L1766.66 894.07L1766.66 887.96L1772.77 887.96Z" fill="none" stroke="#008000" stroke-width="3.06" stroke-linejoin="miter"/>
<path d="M1381.4 881.85L1387.51 881.85L1387.51 887.96L1393.62 887.96L1393.62 894.07L1387.51 894.07L1387.51 900.18L1381.4 900.18L1381.4 894.07L1375.29 894.07L1375.29 887.96L1381.4 887.96Z" fill="none" stroke="#a9a9a9" stroke-width="3.06" stroke-linejoin="miter"/>
<path d="M1294.31 881.85L1300.42 881.85L1300.42 887.96L1306.53 887.96L1306.53 894.07L1300.42 894.07L1300.42 900.18L1294.31 900.18L1294.31 894.07L1288.2 894.07L1288.2 887.96L1294.31 887.96Z" fill="none" stroke="#ffa500" stroke-width="3.06" stroke-linejoin="miter"/>
<path d="M1396.03 900.02L1386.86 918.36L1405.19 918.36Z" fill="none" stroke="#008000" stroke-width="3.06" stroke-linejoin="round"/>
<path d="M1390.98 900.02L1381.81 918.36L1400.15 918.36Z" fill="none" stroke="#a9a9a9" stroke-width="3.06" stroke-linejoin="round"/>
<path d="M1403.59 900.02L1394.42 918.36L1412.76 918.36Z" fill="none" stroke="#ffa500" stroke-width="3.06" stroke-linejoin="round"/>
<path d="M1461.16 905.34L1451.99 923.68L1470.32 923.68Z" fill="none" stroke="#008000" stroke-width="3.06" stroke-linejoin="round"/>
<path d="M1370.66 905.34L1361.49 923.68L1379.82 923.68Z" fill="none" stroke="#a9a9a9" stroke-width="3.06" stroke-linejoin="round"/>
<path d="M1398.84 905.34L1389.68 923.68L1408.01 923.68Z" fill="none" stroke="#ffa500" stroke-width="3.06" stroke-linejoin="round"/>
<path d="M1499.88 1004.51L1490.71 1022.85L1509.05 1022.85Z" fill="#008000" stroke="#008000" stroke-width="3.06" stroke-linejoin="round"/>
<path d="M1375.85 1004.51L1366.68 1022.85L1385.02 1022.85Z" fill="#a9a9a9" stroke="#a9a9a9" stroke-width="3.06" stroke-linejoin="round"/>
<path d="M1477.03 1004.51L1467.86 1022.85L1486.2 1022.85Z" fill="#ffa500" stroke="#ffa500" stroke-width="3.06" stroke-linejoin="round"/>
<path d="M1649.72 -1605.25H1799.56M1579.99 -1336.92H1752.09M2100.74 -1339.39H2115.57M1409.38 -1309.71H1516.2M1407.89 -1198.42H2272.83M1437.57 -1176.16H1569.61M1858.91 -1158.85H1879.68M1461.3 -1121.75H1594.83M1442.02 -991.91H1557.74M1593.34 -954.82H1716.48M1464.27 -948.63H1553.29M1520.65 -901.64H1556.25M1452.4 -855.89H1542.9M2332.18 -774.28H3437.46M1858.91 -776.75H2517.63M1752.09 -763.15H2013.2M1643.79 -596.21H1772.86M1566.64 -507.18H1735.77M1563.67 -472.55H1691.26M1422.73 -468.84H1528.07M1360.42 -428.04H1526.58M1513.23 -408.25H1562.19M1430.15 -389.7H1467.24M1370.8 -360.03H1568.12M1446.47 -373.63H1565.16M1485.04 -347.04H1578.51M1335.2 -282.12H1335.2M1473.17 -267.28H1550.32M1366.35 -205.45H1617.08M1342.62 -183.2H1550.32M1352.26 -173.3H1545.87M1342.62 -164.65H2354.43M1366.35 -146.1H1627.47M1477.62 -90.45H1554.77M1523.62 -43.46H1689.78M2195.69 26.4H2783.19M1295.88 97.51H1493.94M1366.35 97.51H1574.06M1823.3 99.98H3011.67M2155.63 122.24H3811.33M2167.5 144.5H2927.1M2164.53 212.51H3363.28M1548.54 255.42H1825.53M1442.02 262.34H1717.08M1316.06 277.92H1523.91M1383.56 297.95H1459.67M1595.87 291.65H1915.88M2228.33 294.49H2508.73M1728.35 332.21H1960.54M1401.22 341.11H2483.5M2118.54 357.19H2668.95M1546.76 399.48H1696.75M1986.5 408.5H2777.26M1519.91 414.07H2384.1M1331.04 429.28H1510.86M1619.46 469.47H1910.54M1555.96 478.37H1769M1985.01 477.75H2495.37M1533.56 501.49H1558.78M1391.43 504.83H1822.86M1429.26 515.1H1574.95M1423.18 535.5H1773.6M1389.79 559.24H1434.6M1298.55 563.32H1866.03M1491.42 561.84H2185.3M1408.34 590.53H1515.46M1322.59 593.62H1452.25M1256.57 594.24H1639.78M1442.02 594.61H1711.29M1469.02 592.75H1488.75M1338.17 606.85H1486.38M1449.14 609.45H1554.18M1558.78 624.29H1609.22M1717.82 630.96H2452.35M1307.01 645.8H1400.62M1268.58 658.66H1504.77M1302.26 659.9H1516.79M1467.83 661.38H1682.95M1427.03 672.76H2154.15M1268.58 685.5H1699.27M1858.17 684.88H3122.94M1348.4 691.93H1809.95M1393.36 689.21H1416.2M1434.15 685.25H1527.62M1389.79 711.71H1604.03M1326.15 729.52H1755.65M1350.18 728.28H1458.19M1498.39 740.28H1552.25M1313.54 751.65H1418.58M1405.37 754.74H1642.75M1342.91 760.18H1490.98M1362.2 766.74H1490.98M1369.32 773.66H1536.08M1295.59 780.59H1506.85M1453.89 792.09H1557M1349.59 815.95H1430.59M1423.32 820.16H1578.06M1329.86 822.14H1366.35M1406.56 827.08H1478.66M1294.99 846H1316.06M1354.19 849.59H1416.2M1297.37 891.01H1775.83M1390.98 909.19H1403.59M1370.66 914.51H1461.16M1375.85 1013.68H1499.88" class="dl"/>
</g>
<text x="1286.5" y="244" text-anchor="start">b)</text>
<rect x="1253.6" y="171.7" width="741.8" height="865.6" fill="none" stroke="#000" stroke-width="2.44"/>
<text x="1253.6" y="1082" text-anchor="middle">0</text>
<text x="1401.96" y="1082" text-anchor="middle">10</text>
<text x="1550.32" y="1082" text-anchor="middle">20</text>
<text x="1698.68" y="1082" text-anchor="middle">30</text>
<text x="1847.04" y="1082" text-anchor="middle">40</text>
<text x="1995.4" y="1082" text-anchor="middle">50</text>
<text x="1232.6" y="1048.4" text-anchor="end">200</text>
<text x="1232.6" y="924.74" text-anchor="end">300</text>
<text x="1232.6" y="801.09" text-anchor="end">400</text>
<text x="1232.6" y="677.43" text-anchor="end">500</text>
<text x="1232.6" y="553.77" text-anchor="end">600</text>
<text x="1232.6" y="430.11" text-anchor="end">700</text>
<text x="1232.6" y="306.46" text-anchor="end">800</text>
<text x="1232.6" y="182.8" text-anchor="end">900</text>
<path d="M1253.6 1037.3v10.7M1401.96 1037.3v10.7M1550.32 1037.3v10.7M1698.68 1037.3v10.7M1847.04 1037.3v10.7M1995.4 1037.3v10.7M1253.6 1037.3h-10.7M1253.6 913.64h-10.7M1253.6 789.99h-10.7M1253.6 666.33h-10.7M1253.6 542.67h-10.7M1253.6 419.01h-10.7M1253.6 295.36h-10.7M1253.6 171.7h-10.7" stroke="#000" stroke-width="2.44" fill="none"/>
<text x="1624.5" y="1124.2" text-anchor="middle">Peak melt rate [m/yr]</text>
<text transform="translate(1156.7 604.5) rotate(-90)" text-anchor="middle">Ice thickness [m]</text>
<rect x="2041.5" y="210.85" width="43" height="787.09" fill="url(#cg)"/>
<path d="M2041.5 211.35L2063 171.5L2084.5 211.35Z" fill="#fef392"/>
<path d="M2041.5 997.45L2063 1037.3L2084.5 997.45Z" fill="#a280aa"/>
<path d="M2041.5 210.85L2063 171.5L2084.5 210.85L2084.5 997.95L2063 1037.3L2041.5 997.95Z" fill="none" stroke="#000" stroke-width="2.44" stroke-linejoin="miter"/>
<text x="2105.9" y="1009.05" text-anchor="start">1</text>
<text x="2105.9" y="877.86" text-anchor="start">2</text>
<text x="2105.9" y="746.68" text-anchor="start">3</text>
<text x="2105.9" y="615.5" text-anchor="start">4</text>
<text x="2105.9" y="484.32" text-anchor="start">5</text>
<text x="2105.9" y="353.14" text-anchor="start">6</text>
<text x="2105.9" y="221.95" text-anchor="start">7</text>
<path d="M2084.5 997.95h10.7M2084.5 866.76h10.7M2084.5 735.58h10.7M2084.5 604.4h10.7M2084.5 473.22h10.7M2084.5 342.04h10.7M2084.5 210.85h10.7" stroke="#000" stroke-width="2.44" fill="none"/>
<text transform="translate(2160.8 604.4) rotate(-90)" text-anchor="middle">Normalized breakthrough time</text>
</svg>
</body></html>
